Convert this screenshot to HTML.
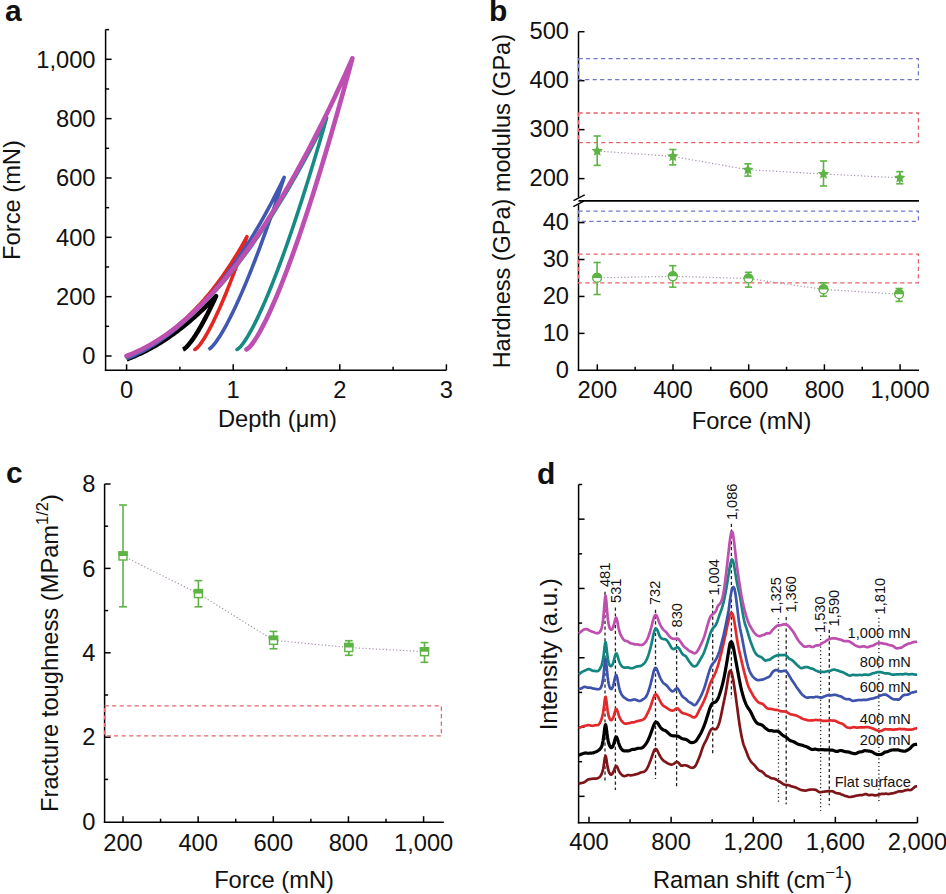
<!DOCTYPE html>
<html><head><meta charset="utf-8"><style>
html,body{margin:0;padding:0;background:#fff;}
svg{display:block;}
text{font-family:"Liberation Sans",sans-serif;fill:#111;}
</style></head><body>
<svg width="946" height="894" viewBox="0 0 946 894">
<rect width="946" height="894" fill="#fff"/>
<text x="5.00" y="21.00" font-size="30" text-anchor="start" font-weight="bold" >a</text>
<line x1="105.60" y1="29.60" x2="105.60" y2="371.05" stroke="#000" stroke-width="1.5" />
<line x1="104.85" y1="370.30" x2="446.30" y2="370.30" stroke="#000" stroke-width="1.5" />
<line x1="105.60" y1="356.00" x2="111.60" y2="356.00" stroke="#000" stroke-width="1.5" />
<text x="95.50" y="364.20" font-size="23.7" text-anchor="end" font-weight="normal" >0</text>
<line x1="105.60" y1="326.33" x2="109.10" y2="326.33" stroke="#000" stroke-width="1.5" />
<line x1="105.60" y1="296.66" x2="111.60" y2="296.66" stroke="#000" stroke-width="1.5" />
<text x="95.50" y="304.86" font-size="23.7" text-anchor="end" font-weight="normal" >200</text>
<line x1="105.60" y1="266.99" x2="109.10" y2="266.99" stroke="#000" stroke-width="1.5" />
<line x1="105.60" y1="237.32" x2="111.60" y2="237.32" stroke="#000" stroke-width="1.5" />
<text x="95.50" y="245.52" font-size="23.7" text-anchor="end" font-weight="normal" >400</text>
<line x1="105.60" y1="207.65" x2="109.10" y2="207.65" stroke="#000" stroke-width="1.5" />
<line x1="105.60" y1="177.98" x2="111.60" y2="177.98" stroke="#000" stroke-width="1.5" />
<text x="95.50" y="186.18" font-size="23.7" text-anchor="end" font-weight="normal" >600</text>
<line x1="105.60" y1="148.31" x2="109.10" y2="148.31" stroke="#000" stroke-width="1.5" />
<line x1="105.60" y1="118.64" x2="111.60" y2="118.64" stroke="#000" stroke-width="1.5" />
<text x="95.50" y="126.84" font-size="23.7" text-anchor="end" font-weight="normal" >800</text>
<line x1="105.60" y1="88.97" x2="109.10" y2="88.97" stroke="#000" stroke-width="1.5" />
<line x1="105.60" y1="59.30" x2="111.60" y2="59.30" stroke="#000" stroke-width="1.5" />
<text x="95.50" y="67.50" font-size="23.7" text-anchor="end" font-weight="normal" >1,000</text>
<line x1="105.60" y1="29.63" x2="109.10" y2="29.63" stroke="#000" stroke-width="1.5" />
<line x1="126.60" y1="370.30" x2="126.60" y2="364.30" stroke="#000" stroke-width="1.5" />
<text x="126.60" y="397.60" font-size="23.7" text-anchor="middle" font-weight="normal" >0</text>
<line x1="179.90" y1="370.30" x2="179.90" y2="366.80" stroke="#000" stroke-width="1.5" />
<line x1="233.20" y1="370.30" x2="233.20" y2="364.30" stroke="#000" stroke-width="1.5" />
<text x="233.20" y="397.60" font-size="23.7" text-anchor="middle" font-weight="normal" >1</text>
<line x1="286.50" y1="370.30" x2="286.50" y2="366.80" stroke="#000" stroke-width="1.5" />
<line x1="339.80" y1="370.30" x2="339.80" y2="364.30" stroke="#000" stroke-width="1.5" />
<text x="339.80" y="397.60" font-size="23.7" text-anchor="middle" font-weight="normal" >2</text>
<line x1="393.10" y1="370.30" x2="393.10" y2="366.80" stroke="#000" stroke-width="1.5" />
<line x1="446.40" y1="370.30" x2="446.40" y2="364.30" stroke="#000" stroke-width="1.5" />
<text x="446.40" y="397.60" font-size="23.7" text-anchor="middle" font-weight="normal" >3</text>
<text x="277.50" y="426.70" font-size="23.7" text-anchor="middle" font-weight="normal" >Depth (&#956;m)</text>
<text transform="translate(19.70,200.00) rotate(-90)" font-size="23.7" text-anchor="middle" >Force (mN)</text>
<path d="M126.60,359.40 L128.12,358.80 L129.64,358.20 L131.15,357.59 L132.67,356.96 L134.19,356.32 L135.71,355.67 L137.22,355.00 L138.74,354.32 L140.26,353.62 L141.78,352.90 L143.29,352.16 L144.81,351.41 L146.33,350.65 L147.85,349.86 L149.37,349.06 L150.88,348.24 L152.40,347.40 L153.92,346.55 L155.44,345.68 L156.95,344.79 L158.47,343.88 L159.99,342.96 L161.51,342.02 L163.02,341.06 L164.54,340.08 L166.06,339.09 L167.58,338.07 L169.10,337.04 L170.61,336.00 L172.13,334.93 L173.65,333.84 L175.17,332.74 L176.68,331.62 L178.20,330.48 L179.72,329.32 L181.24,328.15 L182.75,326.95 L184.27,325.74 L185.79,324.51 L187.31,323.27 L188.83,322.00 L190.34,320.71 L191.86,319.41 L193.38,318.09 L194.90,316.75 L196.41,315.39 L197.93,314.02 L199.45,312.62 L200.97,311.21 L202.48,309.78 L204.00,308.33 L205.52,306.86 L207.04,305.37 L208.56,303.87 L210.07,302.34 L211.59,300.80 L213.11,299.24 L214.63,297.66 L216.14,296.07 L216.14,296.07 L215.47,297.53 L214.79,298.99 L214.11,300.43 L213.44,301.87 L212.76,303.29 L212.08,304.70 L211.41,306.10 L210.73,307.49 L210.05,308.87 L209.38,310.23 L208.70,311.58 L208.02,312.92 L207.35,314.25 L206.67,315.56 L206.00,316.86 L205.32,318.15 L204.64,319.43 L203.97,320.69 L203.29,321.93 L202.61,323.17 L201.94,324.38 L201.26,325.59 L200.58,326.77 L199.91,327.94 L199.23,329.10 L198.55,330.23 L197.88,331.36 L197.20,332.46 L196.52,333.54 L195.85,334.61 L195.17,335.65 L194.49,336.68 L193.82,337.69 L193.14,338.67 L192.46,339.63 L191.79,340.57 L191.11,341.48 L190.43,342.37 L189.76,343.22 L189.08,344.05 L188.40,344.85 L187.73,345.61 L187.05,346.34 L186.37,347.02 L185.70,347.66 L185.02,348.24 L184.34,348.76 L183.67,349.19 L182.99,349.47" fill="none" stroke="#000000" stroke-width="4.5" stroke-linejoin="round" stroke-linecap="butt"/>
<path d="M126.60,356.00 L128.64,355.22 L130.68,354.41 L132.72,353.56 L134.76,352.68 L136.80,351.76 L138.84,350.81 L140.88,349.82 L142.92,348.79 L144.96,347.73 L147.00,346.64 L149.04,345.51 L151.08,344.34 L153.12,343.13 L155.16,341.89 L157.20,340.61 L159.24,339.29 L161.28,337.94 L163.32,336.54 L165.36,335.11 L167.40,333.64 L169.44,332.12 L171.48,330.57 L173.52,328.97 L175.56,327.33 L177.60,325.65 L179.64,323.93 L181.68,322.16 L183.72,320.35 L185.76,318.49 L187.80,316.58 L189.84,314.63 L191.88,312.63 L193.92,310.58 L195.96,308.48 L197.99,306.33 L200.03,304.13 L202.07,301.88 L204.11,299.57 L206.15,297.21 L208.19,294.80 L210.23,292.32 L212.27,289.79 L214.31,287.20 L216.35,284.55 L218.39,281.84 L220.43,279.07 L222.47,276.23 L224.51,273.33 L226.55,270.36 L228.59,267.32 L230.63,264.22 L232.67,261.04 L234.71,257.80 L236.75,254.48 L238.79,251.08 L240.83,247.61 L242.87,244.06 L244.91,240.43 L246.95,236.73 L246.95,236.73 L245.89,239.82 L244.82,242.89 L243.76,245.94 L242.70,248.97 L241.63,251.97 L240.57,254.95 L239.50,257.91 L238.44,260.84 L237.38,263.75 L236.31,266.63 L235.25,269.48 L234.19,272.31 L233.12,275.11 L232.06,277.89 L230.99,280.63 L229.93,283.35 L228.87,286.04 L227.80,288.70 L226.74,291.34 L225.67,293.94 L224.61,296.51 L223.55,299.04 L222.48,301.55 L221.42,304.02 L220.36,306.46 L219.29,308.86 L218.23,311.22 L217.16,313.55 L216.10,315.84 L215.04,318.09 L213.97,320.30 L212.91,322.47 L211.85,324.59 L210.78,326.67 L209.72,328.69 L208.65,330.67 L207.59,332.60 L206.53,334.47 L205.46,336.28 L204.40,338.03 L203.33,339.71 L202.27,341.32 L201.21,342.85 L200.14,344.30 L199.08,345.64 L198.02,346.88 L196.95,347.97 L195.89,348.88 L194.82,349.47" fill="none" stroke="#e52521" stroke-width="3.6" stroke-linejoin="round" stroke-linecap="round"/>
<path d="M126.60,358.70 L129.27,357.61 L131.94,356.47 L134.61,355.26 L137.28,353.99 L139.95,352.67 L142.62,351.28 L145.29,349.83 L147.96,348.32 L150.63,346.76 L153.30,345.13 L155.97,343.44 L158.65,341.69 L161.32,339.87 L163.99,338.00 L166.66,336.06 L169.33,334.05 L172.00,331.99 L174.67,329.86 L177.34,327.66 L180.01,325.40 L182.68,323.07 L185.35,320.68 L188.02,318.22 L190.69,315.69 L193.36,313.10 L196.03,310.43 L198.70,307.69 L201.37,304.88 L204.04,302.00 L206.71,299.05 L209.38,296.02 L212.05,292.92 L214.72,289.74 L217.39,286.48 L220.06,283.15 L222.74,279.74 L225.41,276.25 L228.08,272.67 L230.75,269.02 L233.42,265.28 L236.09,261.45 L238.76,257.54 L241.43,253.54 L244.10,249.46 L246.77,245.34 L249.44,241.13 L252.11,236.83 L254.78,232.44 L257.45,227.95 L260.12,223.36 L262.79,218.67 L265.46,213.88 L268.13,208.98 L270.80,203.99 L273.47,198.89 L276.14,193.68 L278.81,188.36 L281.48,182.93 L284.15,177.39 L284.15,177.39 L282.61,182.11 L281.07,186.80 L279.52,191.46 L277.98,196.08 L276.43,200.66 L274.89,205.21 L273.34,209.72 L271.80,214.19 L270.25,218.63 L268.71,223.02 L267.16,227.38 L265.62,231.70 L264.07,235.97 L262.53,240.21 L260.99,244.40 L259.44,248.55 L257.90,252.66 L256.35,256.72 L254.81,260.74 L253.26,264.71 L251.72,268.63 L250.17,272.50 L248.63,276.33 L247.08,280.10 L245.54,283.82 L243.99,287.48 L242.45,291.09 L240.91,294.65 L239.36,298.14 L237.82,301.58 L236.27,304.95 L234.73,308.25 L233.18,311.49 L231.64,314.66 L230.09,317.76 L228.55,320.78 L227.00,323.72 L225.46,326.57 L223.91,329.34 L222.37,332.01 L220.83,334.57 L219.28,337.03 L217.74,339.37 L216.19,341.57 L214.65,343.63 L213.10,345.51 L211.56,347.18 L210.01,348.57 L208.47,349.47" fill="none" stroke="#4058b2" stroke-width="3.6" stroke-linejoin="round" stroke-linecap="butt"/>
<path d="M126.60,356.80 L129.99,355.47 L133.38,354.04 L136.77,352.52 L140.17,350.90 L143.56,349.19 L146.95,347.39 L150.34,345.49 L153.73,343.50 L157.12,341.42 L160.51,339.24 L163.90,336.97 L167.30,334.60 L170.69,332.14 L174.08,329.58 L177.47,326.93 L180.86,324.19 L184.25,321.35 L187.64,318.42 L191.04,315.40 L194.43,312.28 L197.82,309.06 L201.21,305.76 L204.60,302.36 L207.99,298.86 L211.38,295.27 L214.77,291.59 L218.17,287.81 L221.56,283.94 L224.95,279.97 L228.34,275.91 L231.73,271.76 L235.12,267.51 L238.51,263.17 L241.91,258.74 L245.30,254.21 L248.69,249.58 L252.08,244.87 L255.47,240.06 L258.86,235.18 L262.25,230.20 L265.64,225.13 L269.04,219.96 L272.43,214.70 L275.82,209.35 L279.21,203.90 L282.60,198.35 L285.99,192.72 L289.38,186.99 L292.77,181.16 L296.17,175.25 L299.56,169.23 L302.95,163.13 L306.34,156.93 L309.73,150.63 L313.12,144.24 L316.51,137.76 L319.91,131.18 L323.30,124.51 L326.69,117.75 L326.69,117.75 L324.86,124.11 L323.03,130.43 L321.20,136.69 L319.37,142.92 L317.54,149.09 L315.71,155.21 L313.88,161.29 L312.05,167.31 L310.22,173.28 L308.39,179.20 L306.56,185.07 L304.73,190.88 L302.90,196.64 L301.07,202.34 L299.24,207.99 L297.41,213.58 L295.58,219.11 L293.76,224.58 L291.93,229.99 L290.10,235.33 L288.27,240.61 L286.44,245.83 L284.61,250.98 L282.78,256.06 L280.95,261.07 L279.12,266.00 L277.29,270.86 L275.46,275.65 L273.63,280.35 L271.80,284.98 L269.97,289.52 L268.14,293.97 L266.31,298.33 L264.48,302.60 L262.65,306.77 L260.82,310.83 L258.99,314.79 L257.16,318.63 L255.33,322.36 L253.50,325.95 L251.67,329.41 L249.84,332.72 L248.02,335.87 L246.19,338.84 L244.36,341.60 L242.53,344.14 L240.70,346.39 L238.87,348.26 L237.04,349.47" fill="none" stroke="#168a83" stroke-width="3.6" stroke-linejoin="round" stroke-linecap="round"/>
<path d="M126.60,356.00 L130.43,354.51 L134.25,352.90 L138.08,351.17 L141.91,349.31 L145.73,347.33 L149.56,345.23 L153.39,343.01 L157.21,340.66 L161.04,338.19 L164.87,335.60 L168.69,332.88 L172.52,330.05 L176.35,327.09 L180.17,324.00 L184.00,320.80 L187.83,317.47 L191.65,314.02 L195.48,310.45 L199.31,306.75 L203.14,302.94 L206.96,298.99 L210.79,294.93 L214.62,290.75 L218.44,286.44 L222.27,282.01 L226.10,277.45 L229.92,272.78 L233.75,267.98 L237.58,263.06 L241.40,258.01 L245.23,252.85 L249.06,247.56 L252.88,242.15 L256.71,236.61 L260.54,230.95 L264.36,225.18 L268.19,219.27 L272.02,213.25 L275.84,207.10 L279.67,200.83 L283.50,194.44 L287.32,187.92 L291.15,181.29 L294.98,174.53 L298.80,167.64 L302.63,160.64 L306.46,153.51 L310.28,146.26 L314.11,138.89 L317.94,131.39 L321.76,123.77 L325.59,116.03 L329.42,108.17 L333.25,100.18 L337.07,92.07 L340.90,83.84 L344.73,75.49 L348.55,67.01 L352.38,58.41 L352.38,58.41 L350.22,66.40 L348.06,74.33 L345.90,82.21 L343.74,90.02 L341.58,97.77 L339.42,105.46 L337.26,113.09 L335.10,120.66 L332.94,128.16 L330.78,135.60 L328.62,142.97 L326.46,150.27 L324.30,157.50 L322.13,164.67 L319.97,171.76 L317.81,178.78 L315.65,185.73 L313.49,192.60 L311.33,199.39 L309.17,206.10 L307.01,212.74 L304.85,219.29 L302.69,225.75 L300.53,232.13 L298.37,238.43 L296.21,244.63 L294.05,250.73 L291.89,256.74 L289.73,262.65 L287.57,268.46 L285.41,274.16 L283.25,279.76 L281.09,285.24 L278.93,290.60 L276.77,295.83 L274.61,300.94 L272.45,305.91 L270.29,310.74 L268.13,315.41 L265.97,319.93 L263.81,324.27 L261.65,328.43 L259.49,332.38 L257.33,336.11 L255.17,339.59 L253.01,342.77 L250.85,345.59 L248.69,347.95 L246.52,349.47" fill="none" stroke="#bd4fb3" stroke-width="4.6" stroke-linejoin="round" stroke-linecap="round"/>
<text x="489.00" y="21.00" font-size="30" text-anchor="start" font-weight="bold" >b</text>
<line x1="578.50" y1="31.70" x2="578.50" y2="197.20" stroke="#000" stroke-width="1.5" />
<line x1="578.50" y1="204.20" x2="578.50" y2="371.05" stroke="#000" stroke-width="1.5" />
<line x1="577.75" y1="370.30" x2="919.00" y2="370.30" stroke="#000" stroke-width="1.5" />
<polygon points="573.5,201.5 584.5,195.8 584.5,201.3 573.5,207" fill="#fff"/>
<line x1="573.50" y1="200.60" x2="584.70" y2="194.90" stroke="#000" stroke-width="1.4" />
<line x1="573.30" y1="206.60" x2="583.80" y2="201.20" stroke="#000" stroke-width="1.4" />
<line x1="578.50" y1="200.90" x2="919.00" y2="200.90" stroke="#000" stroke-width="1.6" />
<line x1="578.50" y1="31.70" x2="584.50" y2="31.70" stroke="#000" stroke-width="1.5" />
<text x="569.00" y="39.30" font-size="23.7" text-anchor="end" font-weight="normal" >500</text>
<line x1="578.50" y1="80.67" x2="584.50" y2="80.67" stroke="#000" stroke-width="1.5" />
<text x="569.00" y="88.27" font-size="23.7" text-anchor="end" font-weight="normal" >400</text>
<line x1="578.50" y1="129.64" x2="584.50" y2="129.64" stroke="#000" stroke-width="1.5" />
<text x="569.00" y="137.24" font-size="23.7" text-anchor="end" font-weight="normal" >300</text>
<line x1="578.50" y1="178.61" x2="584.50" y2="178.61" stroke="#000" stroke-width="1.5" />
<text x="569.00" y="186.21" font-size="23.7" text-anchor="end" font-weight="normal" >200</text>
<line x1="578.50" y1="222.58" x2="584.50" y2="222.58" stroke="#000" stroke-width="1.5" />
<text x="569.00" y="230.18" font-size="23.7" text-anchor="end" font-weight="normal" >40</text>
<line x1="578.50" y1="259.51" x2="584.50" y2="259.51" stroke="#000" stroke-width="1.5" />
<text x="569.00" y="267.11" font-size="23.7" text-anchor="end" font-weight="normal" >30</text>
<line x1="578.50" y1="296.44" x2="584.50" y2="296.44" stroke="#000" stroke-width="1.5" />
<text x="569.00" y="304.04" font-size="23.7" text-anchor="end" font-weight="normal" >20</text>
<line x1="578.50" y1="333.37" x2="584.50" y2="333.37" stroke="#000" stroke-width="1.5" />
<text x="569.00" y="340.97" font-size="23.7" text-anchor="end" font-weight="normal" >10</text>
<text x="569.00" y="377.90" font-size="23.7" text-anchor="end" font-weight="normal" >0</text>
<line x1="597.30" y1="370.30" x2="597.30" y2="364.30" stroke="#000" stroke-width="1.5" />
<text x="597.30" y="397.80" font-size="23.7" text-anchor="middle" font-weight="normal" >200</text>
<line x1="635.15" y1="370.30" x2="635.15" y2="366.80" stroke="#000" stroke-width="1.5" />
<line x1="673.00" y1="370.30" x2="673.00" y2="364.30" stroke="#000" stroke-width="1.5" />
<text x="673.00" y="397.80" font-size="23.7" text-anchor="middle" font-weight="normal" >400</text>
<line x1="710.85" y1="370.30" x2="710.85" y2="366.80" stroke="#000" stroke-width="1.5" />
<line x1="748.70" y1="370.30" x2="748.70" y2="364.30" stroke="#000" stroke-width="1.5" />
<text x="748.70" y="397.80" font-size="23.7" text-anchor="middle" font-weight="normal" >600</text>
<line x1="786.55" y1="370.30" x2="786.55" y2="366.80" stroke="#000" stroke-width="1.5" />
<line x1="824.40" y1="370.30" x2="824.40" y2="364.30" stroke="#000" stroke-width="1.5" />
<text x="824.40" y="397.80" font-size="23.7" text-anchor="middle" font-weight="normal" >800</text>
<line x1="862.25" y1="370.30" x2="862.25" y2="366.80" stroke="#000" stroke-width="1.5" />
<line x1="900.10" y1="370.30" x2="900.10" y2="364.30" stroke="#000" stroke-width="1.5" />
<text x="900.10" y="397.80" font-size="23.7" text-anchor="middle" font-weight="normal" >1,000</text>
<text x="751.60" y="428.50" font-size="23.7" text-anchor="middle" font-weight="normal" >Force (mN)</text>
<text transform="translate(510.00,201.20) rotate(-90)" font-size="23.5" text-anchor="middle" >Hardness (GPa) modulus (GPa)</text>
<rect x="578.5" y="58.6" width="339.9" height="20.999999999999993" fill="none" stroke="#7479c4" stroke-width="1.3" stroke-dasharray="4.2,3.3"/>
<rect x="578.5" y="113.0" width="339.9" height="29.599999999999994" fill="none" stroke="#e5646a" stroke-width="1.3" stroke-dasharray="4.2,3.3"/>
<rect x="578.5" y="211.1" width="339.9" height="10.200000000000017" fill="none" stroke="#7479c4" stroke-width="1.3" stroke-dasharray="4.2,3.3"/>
<rect x="578.5" y="254.2" width="339.9" height="28.600000000000023" fill="none" stroke="#e5646a" stroke-width="1.3" stroke-dasharray="4.2,3.3"/>
<path d="M597.20,151.00 L672.80,156.40 L747.90,169.70 L823.50,174.00 L899.80,177.80" fill="none" stroke="#a890b0" stroke-width="1.2" stroke-dasharray="1.2,2.2"/>
<path d="M597.10,277.90 L672.80,276.30 L748.50,278.50 L823.50,289.40 L899.10,294.20" fill="none" stroke="#a890b0" stroke-width="1.2" stroke-dasharray="1.2,2.2"/>
<line x1="597.20" y1="136.00" x2="597.20" y2="165.40" stroke="#5db343" stroke-width="1.6" />
<line x1="593.60" y1="136.00" x2="600.80" y2="136.00" stroke="#5db343" stroke-width="1.6" />
<line x1="593.60" y1="165.40" x2="600.80" y2="165.40" stroke="#5db343" stroke-width="1.6" />
<polygon points="597.20,145.10 598.86,148.71 602.81,149.18 599.89,151.88 600.67,155.77 597.20,153.83 593.73,155.77 594.51,151.88 591.59,149.18 595.54,148.71" fill="#5db343"/>
<line x1="672.80" y1="149.50" x2="672.80" y2="164.90" stroke="#5db343" stroke-width="1.6" />
<line x1="669.20" y1="149.50" x2="676.40" y2="149.50" stroke="#5db343" stroke-width="1.6" />
<line x1="669.20" y1="164.90" x2="676.40" y2="164.90" stroke="#5db343" stroke-width="1.6" />
<polygon points="672.80,150.50 674.46,154.11 678.41,154.58 675.49,157.28 676.27,161.17 672.80,159.23 669.33,161.17 670.11,157.28 667.19,154.58 671.14,154.11" fill="#5db343"/>
<line x1="747.90" y1="163.80" x2="747.90" y2="176.10" stroke="#5db343" stroke-width="1.6" />
<line x1="744.30" y1="163.80" x2="751.50" y2="163.80" stroke="#5db343" stroke-width="1.6" />
<line x1="744.30" y1="176.10" x2="751.50" y2="176.10" stroke="#5db343" stroke-width="1.6" />
<polygon points="747.90,163.80 749.56,167.41 753.51,167.88 750.59,170.58 751.37,174.47 747.90,172.53 744.43,174.47 745.21,170.58 742.29,167.88 746.24,167.41" fill="#5db343"/>
<line x1="823.50" y1="161.00" x2="823.50" y2="186.00" stroke="#5db343" stroke-width="1.6" />
<line x1="819.90" y1="161.00" x2="827.10" y2="161.00" stroke="#5db343" stroke-width="1.6" />
<line x1="819.90" y1="186.00" x2="827.10" y2="186.00" stroke="#5db343" stroke-width="1.6" />
<polygon points="823.50,168.10 825.16,171.71 829.11,172.18 826.19,174.88 826.97,178.77 823.50,176.83 820.03,178.77 820.81,174.88 817.89,172.18 821.84,171.71" fill="#5db343"/>
<line x1="899.80" y1="171.70" x2="899.80" y2="183.80" stroke="#5db343" stroke-width="1.6" />
<line x1="896.20" y1="171.70" x2="903.40" y2="171.70" stroke="#5db343" stroke-width="1.6" />
<line x1="896.20" y1="183.80" x2="903.40" y2="183.80" stroke="#5db343" stroke-width="1.6" />
<polygon points="899.80,171.90 901.46,175.51 905.41,175.98 902.49,178.68 903.27,182.57 899.80,180.63 896.33,182.57 897.11,178.68 894.19,175.98 898.14,175.51" fill="#5db343"/>
<line x1="597.10" y1="262.50" x2="597.10" y2="294.50" stroke="#5db343" stroke-width="1.6" />
<line x1="593.50" y1="262.50" x2="600.70" y2="262.50" stroke="#5db343" stroke-width="1.6" />
<line x1="593.50" y1="294.50" x2="600.70" y2="294.50" stroke="#5db343" stroke-width="1.6" />
<circle cx="597.1" cy="277.9" r="4.4" fill="#fff" stroke="#5db343" stroke-width="1.4"/>
<path d="M592.0,277.9 A5.1000000000000005,5.1000000000000005 0 0 1 602.2,277.9 Z" fill="#5db343"/>
<line x1="672.80" y1="265.70" x2="672.80" y2="287.10" stroke="#5db343" stroke-width="1.6" />
<line x1="669.20" y1="265.70" x2="676.40" y2="265.70" stroke="#5db343" stroke-width="1.6" />
<line x1="669.20" y1="287.10" x2="676.40" y2="287.10" stroke="#5db343" stroke-width="1.6" />
<circle cx="672.8" cy="276.3" r="4.4" fill="#fff" stroke="#5db343" stroke-width="1.4"/>
<path d="M667.6999999999999,276.3 A5.1000000000000005,5.1000000000000005 0 0 1 677.9,276.3 Z" fill="#5db343"/>
<line x1="748.50" y1="272.30" x2="748.50" y2="287.10" stroke="#5db343" stroke-width="1.6" />
<line x1="744.90" y1="272.30" x2="752.10" y2="272.30" stroke="#5db343" stroke-width="1.6" />
<line x1="744.90" y1="287.10" x2="752.10" y2="287.10" stroke="#5db343" stroke-width="1.6" />
<circle cx="748.5" cy="278.5" r="4.4" fill="#fff" stroke="#5db343" stroke-width="1.4"/>
<path d="M743.4,278.5 A5.1000000000000005,5.1000000000000005 0 0 1 753.6,278.5 Z" fill="#5db343"/>
<line x1="823.50" y1="282.80" x2="823.50" y2="296.20" stroke="#5db343" stroke-width="1.6" />
<line x1="819.90" y1="282.80" x2="827.10" y2="282.80" stroke="#5db343" stroke-width="1.6" />
<line x1="819.90" y1="296.20" x2="827.10" y2="296.20" stroke="#5db343" stroke-width="1.6" />
<circle cx="823.5" cy="289.4" r="4.4" fill="#fff" stroke="#5db343" stroke-width="1.4"/>
<path d="M818.4,289.4 A5.1000000000000005,5.1000000000000005 0 0 1 828.6,289.4 Z" fill="#5db343"/>
<line x1="899.10" y1="288.50" x2="899.10" y2="301.40" stroke="#5db343" stroke-width="1.6" />
<line x1="895.50" y1="288.50" x2="902.70" y2="288.50" stroke="#5db343" stroke-width="1.6" />
<line x1="895.50" y1="301.40" x2="902.70" y2="301.40" stroke="#5db343" stroke-width="1.6" />
<circle cx="899.1" cy="294.2" r="4.4" fill="#fff" stroke="#5db343" stroke-width="1.4"/>
<path d="M894.0,294.2 A5.1000000000000005,5.1000000000000005 0 0 1 904.2,294.2 Z" fill="#5db343"/>
<text x="6.00" y="482.70" font-size="30" text-anchor="start" font-weight="bold" >c</text>
<line x1="104.60" y1="484.00" x2="104.60" y2="822.95" stroke="#000" stroke-width="1.5" />
<line x1="103.85" y1="822.20" x2="443.80" y2="822.20" stroke="#000" stroke-width="1.5" />
<text x="95.50" y="829.80" font-size="23.7" text-anchor="end" font-weight="normal" >0</text>
<line x1="104.60" y1="779.40" x2="108.10" y2="779.40" stroke="#000" stroke-width="1.5" />
<line x1="104.60" y1="737.20" x2="110.60" y2="737.20" stroke="#000" stroke-width="1.5" />
<text x="95.50" y="745.40" font-size="23.7" text-anchor="end" font-weight="normal" >2</text>
<line x1="104.60" y1="695.00" x2="108.10" y2="695.00" stroke="#000" stroke-width="1.5" />
<line x1="104.60" y1="652.80" x2="110.60" y2="652.80" stroke="#000" stroke-width="1.5" />
<text x="95.50" y="661.00" font-size="23.7" text-anchor="end" font-weight="normal" >4</text>
<line x1="104.60" y1="610.60" x2="108.10" y2="610.60" stroke="#000" stroke-width="1.5" />
<line x1="104.60" y1="568.40" x2="110.60" y2="568.40" stroke="#000" stroke-width="1.5" />
<text x="95.50" y="576.60" font-size="23.7" text-anchor="end" font-weight="normal" >6</text>
<line x1="104.60" y1="526.20" x2="108.10" y2="526.20" stroke="#000" stroke-width="1.5" />
<line x1="104.60" y1="484.00" x2="110.60" y2="484.00" stroke="#000" stroke-width="1.5" />
<text x="95.50" y="492.20" font-size="23.7" text-anchor="end" font-weight="normal" >8</text>
<line x1="123.00" y1="822.20" x2="123.00" y2="816.20" stroke="#000" stroke-width="1.5" />
<text x="123.00" y="850.50" font-size="23.7" text-anchor="middle" font-weight="normal" >200</text>
<line x1="160.57" y1="822.20" x2="160.57" y2="818.70" stroke="#000" stroke-width="1.5" />
<line x1="198.15" y1="822.20" x2="198.15" y2="816.20" stroke="#000" stroke-width="1.5" />
<text x="198.15" y="850.50" font-size="23.7" text-anchor="middle" font-weight="normal" >400</text>
<line x1="235.72" y1="822.20" x2="235.72" y2="818.70" stroke="#000" stroke-width="1.5" />
<line x1="273.30" y1="822.20" x2="273.30" y2="816.20" stroke="#000" stroke-width="1.5" />
<text x="273.30" y="850.50" font-size="23.7" text-anchor="middle" font-weight="normal" >600</text>
<line x1="310.88" y1="822.20" x2="310.88" y2="818.70" stroke="#000" stroke-width="1.5" />
<line x1="348.45" y1="822.20" x2="348.45" y2="816.20" stroke="#000" stroke-width="1.5" />
<text x="348.45" y="850.50" font-size="23.7" text-anchor="middle" font-weight="normal" >800</text>
<line x1="386.03" y1="822.20" x2="386.03" y2="818.70" stroke="#000" stroke-width="1.5" />
<line x1="423.60" y1="822.20" x2="423.60" y2="816.20" stroke="#000" stroke-width="1.5" />
<text x="423.60" y="850.50" font-size="23.7" text-anchor="middle" font-weight="normal" >1,000</text>
<text x="274.00" y="888.30" font-size="23.7" text-anchor="middle" font-weight="normal" >Force (mN)</text>
<text transform="translate(57.50,653.00) rotate(-90)" font-size="23.7" text-anchor="middle" >Fracture toughness (MPam<tspan dy="-10" font-size="16.5">1/2</tspan><tspan dy="10">)</tspan></text>
<rect x="104.6" y="705.8" width="336.79999999999995" height="30.100000000000023" fill="none" stroke="#e5646a" stroke-width="1.3" stroke-dasharray="4.2,3.3"/>
<path d="M123.00,556.00 L198.40,593.60 L273.50,640.30 L348.80,647.50 L424.50,651.70" fill="none" stroke="#a890b0" stroke-width="1.2" stroke-dasharray="1.2,2.2"/>
<line x1="123.00" y1="505.00" x2="123.00" y2="606.80" stroke="#5db343" stroke-width="1.6" />
<line x1="119.10" y1="505.00" x2="126.90" y2="505.00" stroke="#5db343" stroke-width="1.6" />
<line x1="119.10" y1="606.80" x2="126.90" y2="606.80" stroke="#5db343" stroke-width="1.6" />
<rect x="119.0" y="552.0" width="8.0" height="8.0" fill="#fff" stroke="#5db343" stroke-width="1.4"/>
<rect x="118.3" y="551.3" width="9.4" height="4.7" fill="#5db343"/>
<line x1="198.40" y1="580.60" x2="198.40" y2="606.80" stroke="#5db343" stroke-width="1.6" />
<line x1="194.50" y1="580.60" x2="202.30" y2="580.60" stroke="#5db343" stroke-width="1.6" />
<line x1="194.50" y1="606.80" x2="202.30" y2="606.80" stroke="#5db343" stroke-width="1.6" />
<rect x="194.4" y="589.6" width="8.0" height="8.0" fill="#fff" stroke="#5db343" stroke-width="1.4"/>
<rect x="193.70000000000002" y="588.9" width="9.4" height="4.7" fill="#5db343"/>
<line x1="273.50" y1="631.40" x2="273.50" y2="648.80" stroke="#5db343" stroke-width="1.6" />
<line x1="269.60" y1="631.40" x2="277.40" y2="631.40" stroke="#5db343" stroke-width="1.6" />
<line x1="269.60" y1="648.80" x2="277.40" y2="648.80" stroke="#5db343" stroke-width="1.6" />
<rect x="269.5" y="636.3" width="8.0" height="8.0" fill="#fff" stroke="#5db343" stroke-width="1.4"/>
<rect x="268.8" y="635.5999999999999" width="9.4" height="4.7" fill="#5db343"/>
<line x1="348.80" y1="640.70" x2="348.80" y2="655.30" stroke="#5db343" stroke-width="1.6" />
<line x1="344.90" y1="640.70" x2="352.70" y2="640.70" stroke="#5db343" stroke-width="1.6" />
<line x1="344.90" y1="655.30" x2="352.70" y2="655.30" stroke="#5db343" stroke-width="1.6" />
<rect x="344.8" y="643.5" width="8.0" height="8.0" fill="#fff" stroke="#5db343" stroke-width="1.4"/>
<rect x="344.1" y="642.8" width="9.4" height="4.7" fill="#5db343"/>
<line x1="424.50" y1="642.60" x2="424.50" y2="662.30" stroke="#5db343" stroke-width="1.6" />
<line x1="420.60" y1="642.60" x2="428.40" y2="642.60" stroke="#5db343" stroke-width="1.6" />
<line x1="420.60" y1="662.30" x2="428.40" y2="662.30" stroke="#5db343" stroke-width="1.6" />
<rect x="420.5" y="647.7" width="8.0" height="8.0" fill="#fff" stroke="#5db343" stroke-width="1.4"/>
<rect x="419.8" y="647.0" width="9.4" height="4.7" fill="#5db343"/>
<text x="537.00" y="484.00" font-size="30" text-anchor="start" font-weight="bold" >d</text>
<line x1="578.60" y1="484.50" x2="578.60" y2="823.55" stroke="#000" stroke-width="1.5" />
<line x1="577.85" y1="822.80" x2="917.50" y2="822.80" stroke="#000" stroke-width="1.5" />
<line x1="578.60" y1="484.50" x2="582.10" y2="484.50" stroke="#000" stroke-width="1.5" />
<line x1="578.60" y1="519.15" x2="584.60" y2="519.15" stroke="#000" stroke-width="1.5" />
<line x1="578.60" y1="553.80" x2="582.10" y2="553.80" stroke="#000" stroke-width="1.5" />
<line x1="578.60" y1="588.45" x2="584.60" y2="588.45" stroke="#000" stroke-width="1.5" />
<line x1="578.60" y1="623.10" x2="582.10" y2="623.10" stroke="#000" stroke-width="1.5" />
<line x1="578.60" y1="657.75" x2="584.60" y2="657.75" stroke="#000" stroke-width="1.5" />
<line x1="578.60" y1="692.40" x2="582.10" y2="692.40" stroke="#000" stroke-width="1.5" />
<line x1="578.60" y1="727.05" x2="584.60" y2="727.05" stroke="#000" stroke-width="1.5" />
<line x1="578.60" y1="761.70" x2="582.10" y2="761.70" stroke="#000" stroke-width="1.5" />
<line x1="578.60" y1="796.35" x2="584.60" y2="796.35" stroke="#000" stroke-width="1.5" />
<line x1="589.00" y1="822.80" x2="589.00" y2="816.80" stroke="#000" stroke-width="1.5" />
<text x="589.00" y="850.30" font-size="23.7" text-anchor="middle" font-weight="normal" >400</text>
<line x1="630.06" y1="822.80" x2="630.06" y2="819.30" stroke="#000" stroke-width="1.5" />
<line x1="671.12" y1="822.80" x2="671.12" y2="816.80" stroke="#000" stroke-width="1.5" />
<text x="671.12" y="850.30" font-size="23.7" text-anchor="middle" font-weight="normal" >800</text>
<line x1="712.18" y1="822.80" x2="712.18" y2="819.30" stroke="#000" stroke-width="1.5" />
<line x1="753.24" y1="822.80" x2="753.24" y2="816.80" stroke="#000" stroke-width="1.5" />
<text x="753.24" y="850.30" font-size="23.7" text-anchor="middle" font-weight="normal" >1,200</text>
<line x1="794.30" y1="822.80" x2="794.30" y2="819.30" stroke="#000" stroke-width="1.5" />
<line x1="835.36" y1="822.80" x2="835.36" y2="816.80" stroke="#000" stroke-width="1.5" />
<text x="835.36" y="850.30" font-size="23.7" text-anchor="middle" font-weight="normal" >1,600</text>
<line x1="876.42" y1="822.80" x2="876.42" y2="819.30" stroke="#000" stroke-width="1.5" />
<line x1="917.48" y1="822.80" x2="917.48" y2="816.80" stroke="#000" stroke-width="1.5" />
<text x="917.48" y="850.30" font-size="23.7" text-anchor="middle" font-weight="normal" >2,000</text>
<text x="752.50" y="888.00" font-size="23.7" text-anchor="middle" font-weight="normal" >Raman shift (cm<tspan dy="-10" font-size="16.5">&#8722;1</tspan><tspan dy="10">)</tspan></text>
<text transform="translate(557.00,654.30) rotate(-90)" font-size="24" text-anchor="middle" >Intensity (a.u.)</text>
<line x1="605.0" y1="591.8" x2="605.0" y2="783.3" stroke="#222" stroke-width="1.3" stroke-dasharray="3.2,2.6"/>
<line x1="615.4" y1="607.6" x2="615.4" y2="790.1" stroke="#222" stroke-width="1.3" stroke-dasharray="3.2,2.6"/>
<line x1="655.5" y1="609.7" x2="655.5" y2="779.0" stroke="#222" stroke-width="1.3" stroke-dasharray="3.2,2.6"/>
<line x1="676.6" y1="632.3" x2="676.6" y2="786.4" stroke="#222" stroke-width="1.3" stroke-dasharray="3.2,2.6"/>
<line x1="712.7" y1="599.2" x2="712.7" y2="754.0" stroke="#222" stroke-width="1.3" stroke-dasharray="3.2,2.6"/>
<line x1="731.4" y1="523.8" x2="731.4" y2="698.3" stroke="#222" stroke-width="1.3" stroke-dasharray="3.2,2.6"/>
<line x1="778.5" y1="618.2" x2="778.5" y2="803.0" stroke="#222" stroke-width="1.3" stroke-dasharray="1.2,2.6"/>
<line x1="786.2" y1="617.0" x2="786.2" y2="804.2" stroke="#222" stroke-width="1.3" stroke-dasharray="3.2,2.6"/>
<line x1="820.6" y1="635.1" x2="820.6" y2="810.8" stroke="#222" stroke-width="1.3" stroke-dasharray="1.2,2.6"/>
<line x1="829.3" y1="629.7" x2="829.3" y2="805.3" stroke="#222" stroke-width="1.3" stroke-dasharray="3.2,2.6"/>
<line x1="878.9" y1="617.7" x2="878.9" y2="801.0" stroke="#222" stroke-width="1.3" stroke-dasharray="1.2,2.6"/>
<path d="M578.6,783.85 L579.1,783.65 L579.6,783.45 L580.1,783.28 L580.6,783.15 L581.1,783.05 L581.6,782.97 L582.1,782.89 L582.6,782.79 L583.1,782.66 L583.6,782.48 L584.1,782.26 L584.6,781.99 L585.1,781.68 L585.6,781.33 L586.1,780.94 L586.6,780.54 L587.1,780.15 L587.6,779.82 L588.1,779.56 L588.6,779.37 L589.1,779.25 L589.6,779.22 L590.1,779.19 L590.6,779.12 L591.1,779.03 L591.6,778.92 L592.1,778.81 L592.6,778.72 L593.1,778.64 L593.6,778.59 L594.1,778.57 L594.6,778.56 L595.1,778.57 L595.6,778.58 L596.1,778.56 L596.6,778.50 L597.1,778.38 L597.6,778.20 L598.1,777.97 L598.6,777.68 L599.1,777.34 L599.6,776.93 L600.1,776.44 L600.6,775.84 L601.1,775.09 L601.6,774.12 L602.1,772.85 L602.6,771.19 L603.1,769.01 L603.6,766.22 L604.1,762.87 L604.6,759.36 L605.1,756.63 L605.6,755.88 L606.1,757.46 L606.6,760.53 L607.1,763.90 L607.6,766.86 L608.1,769.19 L608.6,770.96 L609.1,772.28 L609.6,773.28 L610.1,774.01 L610.6,774.50 L611.1,774.68 L611.6,774.52 L612.1,774.08 L612.6,773.37 L613.1,772.41 L613.6,771.25 L614.1,769.95 L614.6,768.64 L615.1,767.45 L615.6,766.56 L616.1,766.12 L616.6,766.20 L617.1,766.89 L617.6,767.94 L618.1,769.13 L618.6,770.27 L619.1,771.30 L619.6,772.18 L620.1,772.92 L620.6,773.56 L621.1,774.13 L621.6,774.66 L622.1,775.12 L622.6,775.52 L623.1,775.82 L623.6,776.02 L624.1,776.12 L624.6,776.12 L625.1,776.04 L625.6,775.89 L626.1,775.69 L626.6,775.45 L627.1,775.21 L627.6,775.05 L628.1,774.98 L628.6,775.01 L629.1,775.09 L629.6,775.20 L630.1,775.28 L630.6,775.32 L631.1,775.31 L631.6,775.27 L632.1,775.21 L632.6,775.13 L633.1,775.04 L633.6,774.93 L634.1,774.80 L634.6,774.64 L635.1,774.47 L635.6,774.32 L636.1,774.19 L636.6,774.09 L637.1,773.98 L637.6,773.86 L638.1,773.69 L638.6,773.48 L639.1,773.23 L639.6,772.98 L640.1,772.74 L640.6,772.54 L641.1,772.40 L641.6,772.29 L642.1,772.21 L642.6,772.12 L643.1,772.02 L643.6,771.87 L644.1,771.67 L644.6,771.40 L645.1,771.03 L645.6,770.54 L646.1,769.94 L646.6,769.21 L647.1,768.37 L647.6,767.43 L648.1,766.40 L648.6,765.29 L649.1,764.11 L649.6,762.86 L650.1,761.57 L650.6,760.23 L651.1,758.86 L651.6,757.45 L652.1,756.00 L652.6,754.53 L653.1,753.10 L653.6,751.76 L654.1,750.61 L654.6,749.73 L655.1,749.16 L655.6,748.95 L656.1,749.10 L656.6,749.57 L657.1,750.30 L657.6,751.21 L658.1,752.24 L658.6,753.29 L659.1,754.32 L659.6,755.28 L660.1,756.17 L660.6,757.00 L661.1,757.77 L661.6,758.48 L662.1,759.15 L662.6,759.74 L663.1,760.25 L663.6,760.69 L664.1,761.05 L664.6,761.37 L665.1,761.68 L665.6,761.99 L666.1,762.31 L666.6,762.63 L667.1,762.94 L667.6,763.22 L668.1,763.47 L668.6,763.70 L669.1,763.92 L669.6,764.13 L670.1,764.31 L670.6,764.47 L671.1,764.57 L671.6,764.58 L672.1,764.51 L672.6,764.36 L673.1,764.13 L673.6,763.86 L674.1,763.54 L674.6,763.19 L675.1,762.82 L675.6,762.46 L676.1,762.20 L676.6,762.08 L677.1,762.05 L677.6,762.16 L678.1,762.44 L678.6,762.88 L679.1,763.45 L679.6,764.08 L680.1,764.69 L680.6,765.20 L681.1,765.59 L681.6,765.68 L682.1,765.65 L682.6,765.57 L683.1,765.46 L683.6,765.36 L684.1,765.28 L684.6,765.23 L685.1,765.24 L685.6,765.31 L686.1,765.44 L686.6,765.60 L687.1,765.79 L687.6,766.00 L688.1,766.23 L688.6,766.49 L689.1,766.77 L689.6,767.06 L690.1,767.32 L690.6,767.53 L691.1,767.68 L691.6,767.76 L692.1,767.78 L692.6,767.73 L693.1,767.63 L693.6,767.45 L694.1,767.18 L694.6,766.78 L695.1,766.23 L695.6,765.52 L696.1,764.65 L696.6,763.66 L697.1,762.56 L697.6,761.40 L698.1,760.22 L698.6,759.01 L699.1,757.78 L699.6,756.51 L700.1,755.17 L700.6,753.75 L701.1,752.26 L701.6,750.71 L702.1,749.18 L702.6,747.72 L703.1,746.40 L703.6,745.22 L704.1,744.17 L704.6,743.21 L705.1,742.28 L705.6,741.34 L706.1,740.35 L706.6,739.31 L707.1,738.20 L707.6,737.04 L708.1,735.83 L708.6,734.61 L709.1,733.40 L709.6,732.24 L710.1,731.18 L710.6,730.29 L711.1,729.57 L711.6,729.07 L712.1,728.77 L712.6,728.67 L713.1,728.73 L713.6,728.90 L714.1,729.10 L714.6,729.27 L715.1,729.34 L715.6,729.26 L716.1,729.01 L716.6,728.57 L717.1,727.94 L717.6,727.05 L718.1,725.96 L718.6,724.71 L719.1,723.29 L719.6,721.59 L720.1,719.66 L720.6,717.54 L721.1,715.25 L721.6,712.84 L722.1,710.36 L722.6,707.86 L723.1,705.40 L723.6,702.99 L724.1,700.59 L724.6,698.21 L725.1,695.76 L725.6,693.19 L726.1,690.45 L726.6,687.55 L727.1,684.49 L727.6,681.33 L728.1,678.18 L728.6,675.21 L729.1,672.69 L729.6,671.41 L730.1,670.70 L730.6,670.66 L731.1,671.31 L731.6,672.62 L732.1,674.47 L732.6,676.74 L733.1,679.32 L733.6,682.15 L734.1,685.21 L734.6,688.46 L735.1,691.88 L735.6,695.43 L736.1,699.09 L736.6,702.83 L737.1,706.62 L737.6,710.44 L738.1,714.25 L738.6,717.98 L739.1,721.56 L739.6,724.94 L740.1,728.09 L740.6,731.03 L741.1,733.79 L741.6,736.37 L742.1,738.78 L742.6,740.95 L743.1,742.88 L743.6,744.56 L744.1,746.03 L744.6,747.35 L745.1,748.59 L745.6,749.81 L746.1,751.05 L746.6,752.34 L747.1,753.65 L747.6,754.96 L748.1,756.21 L748.6,757.38 L749.1,758.43 L749.6,759.35 L750.1,760.17 L750.6,760.92 L751.1,761.62 L751.6,762.26 L752.1,762.84 L752.6,763.38 L753.1,763.87 L753.6,764.35 L754.1,764.82 L754.6,765.34 L755.1,765.95 L755.6,766.56 L756.1,767.17 L756.6,767.77 L757.1,768.36 L757.6,768.94 L758.1,769.48 L758.6,769.95 L759.1,770.34 L759.6,770.61 L760.1,770.78 L760.6,770.93 L761.1,771.12 L761.6,771.38 L762.1,771.73 L762.6,772.13 L763.1,772.59 L763.6,773.07 L764.1,773.57 L764.6,774.09 L765.1,774.61 L765.6,775.08 L766.1,775.48 L766.6,775.79 L767.1,776.02 L767.6,776.20 L768.1,776.39 L768.6,776.62 L769.1,776.90 L769.6,777.22 L770.1,777.56 L770.6,777.88 L771.1,778.14 L771.6,778.32 L772.1,778.42 L772.6,778.47 L773.1,778.48 L773.6,778.52 L774.1,778.60 L774.6,778.75 L775.1,778.97 L775.6,779.23 L776.1,779.53 L776.6,779.82 L777.1,780.09 L777.6,780.37 L778.1,780.66 L778.6,780.96 L779.1,781.28 L779.6,781.60 L780.1,781.92 L780.6,782.24 L781.1,782.57 L781.6,782.92 L782.1,783.30 L782.6,783.69 L783.1,783.98 L783.6,784.24 L784.1,784.45 L784.6,784.62 L785.1,784.74 L785.6,784.84 L786.1,784.93 L786.6,785.00 L787.1,785.05 L787.6,785.08 L788.1,785.13 L788.6,785.25 L789.1,785.41 L789.6,785.61 L790.1,785.83 L790.6,786.04 L791.1,786.23 L791.6,786.38 L792.1,786.52 L792.6,786.64 L793.1,786.75 L793.6,786.86 L794.1,786.99 L794.6,787.13 L795.1,787.29 L795.6,787.48 L796.1,787.69 L796.6,787.91 L797.1,788.14 L797.6,788.37 L798.1,788.61 L798.6,788.85 L799.1,789.11 L799.6,789.36 L800.1,789.59 L800.6,789.78 L801.1,789.94 L801.6,790.07 L802.1,790.18 L802.6,790.28 L803.1,790.37 L803.6,790.44 L804.1,790.50 L804.6,790.53 L805.1,790.54 L805.6,790.53 L806.1,790.49 L806.6,790.41 L807.1,790.30 L807.6,790.16 L808.1,790.03 L808.6,789.91 L809.1,789.81 L809.6,789.74 L810.1,789.68 L810.6,789.62 L811.1,789.57 L811.6,789.52 L812.1,789.49 L812.6,789.49 L813.1,789.51 L813.6,789.55 L814.1,789.60 L814.6,789.67 L815.1,789.77 L815.6,789.88 L816.1,790.08 L816.6,790.33 L817.1,790.66 L817.6,791.03 L818.1,791.40 L818.6,791.74 L819.1,792.01 L819.6,792.18 L820.1,792.25 L820.6,792.21 L821.1,792.13 L821.6,792.02 L822.1,791.91 L822.6,791.83 L823.1,791.78 L823.6,791.73 L824.1,791.67 L824.6,791.60 L825.1,791.53 L825.6,791.46 L826.1,791.40 L826.6,791.35 L827.1,791.30 L827.6,791.25 L828.1,791.22 L828.6,791.21 L829.1,791.23 L829.6,791.26 L830.1,791.28 L830.6,791.27 L831.1,791.25 L831.6,791.22 L832.1,791.27 L832.6,791.37 L833.1,791.54 L833.6,791.75 L834.1,792.01 L834.6,792.29 L835.1,792.58 L835.6,792.85 L836.1,793.06 L836.6,793.20 L837.1,793.26 L837.6,793.28 L838.1,793.30 L838.6,793.34 L839.1,793.45 L839.6,793.62 L840.1,793.82 L840.6,794.05 L841.1,794.27 L841.6,794.47 L842.1,794.66 L842.6,794.85 L843.1,795.05 L843.6,795.25 L844.1,795.47 L844.6,795.67 L845.1,795.85 L845.6,796.00 L846.1,796.14 L846.6,796.28 L847.1,796.42 L847.6,796.57 L848.1,796.73 L848.6,796.86 L849.1,796.97 L849.6,797.02 L850.1,797.01 L850.6,796.96 L851.1,796.88 L851.6,796.78 L852.1,796.68 L852.6,796.58 L853.1,796.47 L853.6,796.36 L854.1,796.23 L854.6,796.10 L855.1,795.96 L855.6,795.83 L856.1,795.72 L856.6,795.62 L857.1,795.54 L857.6,795.47 L858.1,795.40 L858.6,795.33 L859.1,795.26 L859.6,795.21 L860.1,795.17 L860.6,795.15 L861.1,795.14 L861.6,795.12 L862.1,795.08 L862.6,794.98 L863.1,794.82 L863.6,794.63 L864.1,794.41 L864.6,794.21 L865.1,794.07 L865.6,794.01 L866.1,794.06 L866.6,794.21 L867.1,794.43 L867.6,794.68 L868.1,794.92 L868.6,795.09 L869.1,795.17 L869.6,795.14 L870.1,795.05 L870.6,794.93 L871.1,794.85 L871.6,794.82 L872.1,794.85 L872.6,794.94 L873.1,795.04 L873.6,795.15 L874.1,795.25 L874.6,795.34 L875.1,795.40 L875.6,795.41 L876.1,795.37 L876.6,795.26 L877.1,795.11 L877.6,794.95 L878.1,794.79 L878.6,794.64 L879.1,794.52 L879.6,794.39 L880.1,794.26 L880.6,794.11 L881.1,793.97 L881.6,793.86 L882.1,793.80 L882.6,793.79 L883.1,793.82 L883.6,793.84 L884.1,793.83 L884.6,793.80 L885.1,793.74 L885.6,793.70 L886.1,793.71 L886.6,793.77 L887.1,793.87 L887.6,793.97 L888.1,794.03 L888.6,794.02 L889.1,793.94 L889.6,793.83 L890.1,793.70 L890.6,793.60 L891.1,793.51 L891.6,793.44 L892.1,793.38 L892.6,793.30 L893.1,793.21 L893.6,793.10 L894.1,792.96 L894.6,792.81 L895.1,792.65 L895.6,792.47 L896.1,792.29 L896.6,792.11 L897.1,791.93 L897.6,791.75 L898.1,791.58 L898.6,791.43 L899.1,791.34 L899.6,791.31 L900.1,791.32 L900.6,791.36 L901.1,791.40 L901.6,791.40 L902.1,791.35 L902.6,791.24 L903.1,791.09 L903.6,790.91 L904.1,790.73 L904.6,790.56 L905.1,790.41 L905.6,790.29 L906.1,790.19 L906.6,790.10 L907.1,790.02 L907.6,789.96 L908.1,789.94 L908.6,789.95 L909.1,789.99 L909.6,790.04 L910.1,790.05 L910.6,790.00 L911.1,789.84 L911.6,789.58 L912.1,789.22 L912.6,788.80 L913.1,788.35 L913.6,787.89 L914.1,787.46 L914.6,787.08 L915.1,786.76 L915.6,786.51 L916.1,786.35 L916.6,786.27 L917.1,786.24" fill="none" stroke="#7f1518" stroke-width="2.7" stroke-linejoin="round"/>
<path d="M578.6,755.12 L579.1,754.99 L579.6,754.83 L580.1,754.65 L580.6,754.47 L581.1,754.27 L581.6,754.09 L582.1,753.91 L582.6,753.74 L583.1,753.56 L583.6,753.39 L584.1,753.21 L584.6,753.06 L585.1,752.98 L585.6,752.96 L586.1,753.00 L586.6,753.08 L587.1,753.18 L587.6,753.25 L588.1,753.28 L588.6,753.27 L589.1,753.22 L589.6,753.16 L590.1,753.10 L590.6,753.06 L591.1,753.04 L591.6,753.03 L592.1,753.01 L592.6,752.96 L593.1,752.86 L593.6,752.70 L594.1,752.51 L594.6,752.32 L595.1,752.12 L595.6,751.92 L596.1,751.72 L596.6,751.49 L597.1,751.23 L597.6,750.94 L598.1,750.62 L598.6,750.27 L599.1,749.90 L599.6,749.49 L600.1,749.02 L600.6,748.44 L601.1,747.69 L601.6,746.64 L602.1,745.18 L602.6,743.17 L603.1,740.49 L603.6,737.08 L604.1,733.01 L604.6,728.78 L605.1,725.50 L605.6,724.58 L606.1,726.45 L606.6,730.12 L607.1,734.18 L607.6,737.76 L608.1,740.62 L608.6,742.81 L609.1,744.44 L609.6,745.67 L610.1,746.59 L610.6,747.25 L611.1,747.64 L611.6,747.67 L612.1,747.39 L612.6,746.74 L613.1,745.71 L613.6,744.29 L614.1,742.59 L614.6,740.75 L615.1,739.00 L615.6,737.65 L616.1,736.98 L616.6,737.13 L617.1,738.02 L617.6,739.48 L618.1,741.18 L618.6,742.87 L619.1,744.41 L619.6,745.74 L620.1,746.85 L620.6,747.79 L621.1,748.57 L621.6,749.23 L622.1,749.79 L622.6,750.22 L623.1,750.54 L623.6,750.74 L624.1,750.85 L624.6,750.87 L625.1,750.86 L625.6,750.83 L626.1,750.83 L626.6,750.85 L627.1,750.89 L627.6,750.92 L628.1,750.92 L628.6,750.86 L629.1,750.74 L629.6,750.55 L630.1,750.33 L630.6,750.08 L631.1,749.84 L631.6,749.62 L632.1,749.46 L632.6,749.36 L633.1,749.33 L633.6,749.34 L634.1,749.35 L634.6,749.31 L635.1,749.22 L635.6,749.05 L636.1,748.86 L636.6,748.66 L637.1,748.49 L637.6,748.37 L638.1,748.30 L638.6,748.26 L639.1,748.25 L639.6,748.26 L640.1,748.25 L640.6,748.23 L641.1,748.16 L641.6,748.03 L642.1,747.82 L642.6,747.52 L643.1,747.13 L643.6,746.65 L644.1,746.12 L644.6,745.54 L645.1,744.93 L645.6,744.29 L646.1,743.60 L646.6,742.84 L647.1,742.00 L647.6,741.06 L648.1,740.03 L648.6,738.92 L649.1,737.77 L649.6,736.56 L650.1,735.31 L650.6,734.01 L651.1,732.66 L651.6,731.26 L652.1,729.83 L652.6,728.40 L653.1,726.98 L653.6,725.63 L654.1,724.40 L654.6,723.38 L655.1,722.62 L655.6,722.18 L656.1,722.04 L656.6,722.18 L657.1,722.55 L657.6,723.09 L658.1,723.76 L658.6,724.49 L659.1,725.28 L659.6,726.06 L660.1,726.82 L660.6,727.52 L661.1,728.15 L661.6,728.69 L662.1,729.15 L662.6,729.51 L663.1,729.78 L663.6,729.99 L664.1,730.16 L664.6,730.32 L665.1,730.52 L665.6,730.80 L666.1,731.14 L666.6,731.54 L667.1,731.99 L667.6,732.45 L668.1,732.92 L668.6,733.40 L669.1,733.87 L669.6,734.32 L670.1,734.73 L670.6,735.08 L671.1,735.35 L671.6,735.55 L672.1,735.68 L672.6,735.76 L673.1,735.81 L673.6,735.85 L674.1,735.88 L674.6,735.91 L675.1,735.93 L675.6,735.95 L676.1,735.95 L676.6,735.97 L677.1,736.02 L677.6,736.12 L678.1,736.29 L678.6,736.52 L679.1,736.80 L679.6,737.11 L680.1,737.44 L680.6,737.78 L681.1,738.11 L681.6,738.38 L682.1,738.60 L682.6,738.78 L683.1,738.92 L683.6,739.01 L684.1,739.09 L684.6,739.16 L685.1,739.25 L685.6,739.38 L686.1,739.55 L686.6,739.75 L687.1,740.01 L687.6,740.32 L688.1,740.68 L688.6,741.07 L689.1,741.48 L689.6,741.86 L690.1,742.18 L690.6,742.41 L691.1,742.54 L691.6,742.59 L692.1,742.58 L692.6,742.53 L693.1,742.44 L693.6,742.32 L694.1,742.14 L694.6,741.91 L695.1,741.62 L695.6,741.27 L696.1,740.87 L696.6,740.22 L697.1,739.45 L697.6,738.65 L698.1,737.83 L698.6,737.00 L699.1,736.17 L699.6,735.34 L700.1,734.50 L700.6,733.61 L701.1,732.66 L701.6,731.65 L702.1,730.58 L702.6,729.46 L703.1,728.29 L703.6,727.08 L704.1,725.81 L704.6,724.48 L705.1,723.09 L705.6,721.64 L706.1,720.13 L706.6,718.58 L707.1,717.00 L707.6,715.40 L708.1,713.77 L708.6,712.14 L709.1,710.53 L709.6,709.00 L710.1,707.59 L710.6,706.33 L711.1,705.24 L711.6,704.35 L712.1,703.68 L712.6,703.19 L713.1,702.86 L713.6,702.63 L714.1,702.48 L714.6,702.33 L715.1,702.15 L715.6,701.89 L716.1,701.49 L716.6,700.93 L717.1,700.21 L717.6,699.31 L718.1,698.26 L718.6,697.06 L719.1,695.72 L719.6,694.27 L720.1,692.72 L720.6,691.11 L721.1,689.43 L721.6,687.69 L722.1,685.87 L722.6,683.94 L723.1,681.87 L723.6,679.65 L724.1,677.30 L724.6,674.77 L725.1,672.10 L725.6,669.34 L726.1,666.52 L726.6,663.63 L727.1,660.66 L727.6,657.61 L728.1,654.49 L728.6,651.35 L729.1,648.30 L729.6,645.49 L730.1,643.21 L730.6,642.21 L731.1,641.79 L731.6,642.00 L732.1,642.82 L732.6,644.22 L733.1,646.12 L733.6,648.40 L734.1,650.97 L734.6,653.71 L735.1,656.52 L735.6,659.35 L736.1,662.15 L736.6,664.90 L737.1,667.63 L737.6,670.34 L738.1,673.04 L738.6,675.75 L739.1,678.42 L739.6,681.05 L740.1,683.59 L740.6,686.02 L741.1,688.30 L741.6,690.44 L742.1,692.43 L742.6,694.28 L743.1,696.01 L743.6,697.65 L744.1,699.20 L744.6,700.65 L745.1,702.00 L745.6,703.23 L746.1,704.35 L746.6,705.38 L747.1,706.32 L747.6,707.19 L748.1,707.99 L748.6,708.74 L749.1,709.45 L749.6,710.18 L750.1,710.92 L750.6,711.77 L751.1,712.71 L751.6,713.74 L752.1,714.83 L752.6,715.92 L753.1,716.98 L753.6,717.99 L754.1,718.94 L754.6,719.85 L755.1,720.70 L755.6,721.48 L756.1,722.15 L756.6,722.69 L757.1,723.13 L757.6,723.48 L758.1,723.73 L758.6,723.93 L759.1,724.10 L759.6,724.25 L760.1,724.39 L760.6,724.53 L761.1,724.70 L761.6,724.90 L762.1,725.13 L762.6,725.46 L763.1,725.87 L763.6,726.33 L764.1,726.84 L764.6,727.36 L765.1,727.84 L765.6,728.27 L766.1,728.66 L766.6,729.01 L767.1,729.36 L767.6,729.70 L768.1,730.03 L768.6,730.32 L769.1,730.54 L769.6,730.67 L770.1,730.72 L770.6,730.71 L771.1,730.70 L771.6,730.71 L772.1,730.76 L772.6,730.87 L773.1,731.00 L773.6,731.12 L774.1,731.21 L774.6,731.24 L775.1,731.23 L775.6,731.19 L776.1,731.14 L776.6,731.12 L777.1,731.14 L777.6,731.22 L778.1,731.38 L778.6,731.62 L779.1,731.95 L779.6,732.36 L780.1,732.83 L780.6,733.33 L781.1,733.84 L781.6,734.33 L782.1,734.76 L782.6,735.14 L783.1,735.48 L783.6,735.78 L784.1,736.07 L784.6,736.34 L785.1,736.62 L785.6,736.93 L786.1,737.26 L786.6,737.63 L787.1,738.03 L787.6,738.43 L788.1,738.87 L788.6,739.35 L789.1,739.79 L789.6,740.18 L790.1,740.49 L790.6,740.73 L791.1,740.91 L791.6,741.05 L792.1,741.18 L792.6,741.38 L793.1,741.58 L793.6,741.80 L794.1,742.02 L794.6,742.26 L795.1,742.52 L795.6,742.80 L796.1,743.10 L796.6,743.40 L797.1,743.69 L797.6,743.92 L798.1,744.17 L798.6,744.38 L799.1,744.54 L799.6,744.67 L800.1,744.77 L800.6,744.86 L801.1,744.95 L801.6,745.03 L802.1,745.20 L802.6,745.37 L803.1,745.56 L803.6,745.74 L804.1,745.92 L804.6,746.09 L805.1,746.24 L805.6,746.40 L806.1,746.58 L806.6,746.80 L807.1,747.00 L807.6,747.22 L808.1,747.47 L808.6,747.73 L809.1,748.00 L809.6,748.29 L810.1,748.58 L810.6,748.88 L811.1,749.15 L811.6,749.36 L812.1,749.49 L812.6,749.53 L813.1,749.49 L813.6,749.39 L814.1,749.28 L814.6,749.19 L815.1,749.16 L815.6,749.19 L816.1,749.29 L816.6,749.43 L817.1,749.57 L817.6,749.70 L818.1,749.78 L818.6,749.82 L819.1,749.81 L819.6,749.77 L820.1,749.70 L820.6,749.63 L821.1,749.57 L821.6,749.54 L822.1,749.56 L822.6,749.61 L823.1,749.69 L823.6,749.76 L824.1,749.82 L824.6,749.85 L825.1,749.85 L825.6,749.83 L826.1,749.81 L826.6,749.79 L827.1,749.80 L827.6,749.84 L828.1,749.89 L828.6,749.96 L829.1,750.01 L829.6,750.06 L830.1,750.08 L830.6,750.09 L831.1,750.08 L831.6,750.09 L832.1,750.12 L832.6,750.19 L833.1,750.31 L833.6,750.48 L834.1,750.68 L834.6,750.89 L835.1,751.08 L835.6,751.24 L836.1,751.36 L836.6,751.42 L837.1,751.41 L837.6,751.33 L838.1,751.20 L838.6,751.03 L839.1,750.85 L839.6,750.69 L840.1,750.57 L840.6,750.50 L841.1,750.50 L841.6,750.57 L842.1,750.70 L842.6,750.87 L843.1,751.05 L843.6,751.21 L844.1,751.35 L844.6,751.47 L845.1,751.59 L845.6,751.70 L846.1,751.81 L846.6,751.88 L847.1,751.92 L847.6,751.93 L848.1,751.94 L848.6,751.98 L849.1,752.09 L849.6,752.26 L850.1,752.47 L850.6,752.69 L851.1,752.89 L851.6,753.05 L852.1,753.18 L852.6,753.29 L853.1,753.39 L853.6,753.49 L854.1,753.60 L854.6,753.68 L855.1,753.72 L855.6,753.67 L856.1,753.53 L856.6,753.31 L857.1,753.03 L857.6,752.75 L858.1,752.49 L858.6,752.28 L859.1,752.12 L859.6,752.02 L860.1,751.95 L860.6,751.90 L861.1,751.85 L861.6,751.77 L862.1,751.65 L862.6,751.47 L863.1,751.24 L863.6,751.01 L864.1,750.81 L864.6,750.67 L865.1,750.62 L865.6,750.65 L866.1,750.72 L866.6,750.81 L867.1,750.90 L867.6,750.96 L868.1,751.01 L868.6,751.05 L869.1,751.10 L869.6,751.17 L870.1,751.25 L870.6,751.37 L871.1,751.50 L871.6,751.67 L872.1,751.88 L872.6,752.13 L873.1,752.41 L873.6,752.73 L874.1,753.06 L874.6,753.37 L875.1,753.65 L875.6,753.90 L876.1,754.10 L876.6,754.26 L877.1,754.40 L877.6,754.49 L878.1,754.55 L878.6,754.57 L879.1,754.56 L879.6,754.52 L880.1,754.49 L880.6,754.45 L881.1,754.38 L881.6,754.27 L882.1,754.07 L882.6,753.77 L883.1,753.40 L883.6,753.00 L884.1,752.62 L884.6,752.31 L885.1,752.10 L885.6,751.98 L886.1,751.91 L886.6,751.85 L887.1,751.77 L887.6,751.62 L888.1,751.42 L888.6,751.18 L889.1,750.93 L889.6,750.70 L890.1,750.50 L890.6,750.33 L891.1,750.20 L891.6,750.10 L892.1,750.02 L892.6,749.98 L893.1,749.96 L893.6,749.96 L894.1,749.97 L894.6,749.97 L895.1,749.96 L895.6,749.92 L896.1,749.88 L896.6,749.83 L897.1,749.80 L897.6,749.80 L898.1,749.86 L898.6,749.98 L899.1,750.14 L899.6,750.32 L900.1,750.50 L900.6,750.65 L901.1,750.78 L901.6,750.88 L902.1,750.95 L902.6,751.02 L903.1,751.10 L903.6,751.18 L904.1,751.24 L904.6,751.24 L905.1,751.17 L905.6,751.02 L906.1,750.80 L906.6,750.54 L907.1,750.26 L907.6,750.00 L908.1,749.73 L908.6,749.44 L909.1,749.12 L909.6,748.72 L910.1,748.27 L910.6,747.76 L911.1,747.23 L911.6,746.69 L912.1,746.16 L912.6,745.66 L913.1,745.22 L913.6,744.87 L914.1,744.64 L914.6,744.50 L915.1,744.46 L915.6,744.46 L916.1,744.47 L916.6,744.46 L917.1,744.42" fill="none" stroke="#000000" stroke-width="3.2" stroke-linejoin="round"/>
<path d="M578.6,728.01 L579.1,727.90 L579.6,727.76 L580.1,727.57 L580.6,727.35 L581.1,727.10 L581.6,726.84 L582.1,726.60 L582.6,726.39 L583.1,726.22 L583.6,726.09 L584.1,725.99 L584.6,725.90 L585.1,725.82 L585.6,725.72 L586.1,725.60 L586.6,725.45 L587.1,725.31 L587.6,725.18 L588.1,725.09 L588.6,725.07 L589.1,725.11 L589.6,725.21 L590.1,725.34 L590.6,725.48 L591.1,725.61 L591.6,725.71 L592.1,725.78 L592.6,725.78 L593.1,725.72 L593.6,725.61 L594.1,725.48 L594.6,725.34 L595.1,725.24 L595.6,725.20 L596.1,725.22 L596.6,725.25 L597.1,725.25 L597.6,725.17 L598.1,724.97 L598.6,724.61 L599.1,724.07 L599.6,723.34 L600.1,722.43 L600.6,721.36 L601.1,720.13 L601.6,718.73 L602.1,717.10 L602.6,715.11 L603.1,712.58 L603.6,709.34 L604.1,705.38 L604.6,701.13 L605.1,697.77 L605.6,696.80 L606.1,698.72 L606.6,702.52 L607.1,706.70 L607.6,710.39 L608.1,713.36 L608.6,715.63 L609.1,717.35 L609.6,718.60 L610.1,719.46 L610.6,719.96 L611.1,720.12 L611.6,719.94 L612.1,719.51 L612.6,718.81 L613.1,717.80 L613.6,716.45 L614.1,714.81 L614.6,712.98 L615.1,711.21 L615.6,709.80 L616.1,709.07 L616.6,709.16 L617.1,710.08 L617.6,711.51 L618.1,713.12 L618.6,714.69 L619.1,716.13 L619.6,717.39 L620.1,718.49 L620.6,719.44 L621.1,720.24 L621.6,720.93 L622.1,721.51 L622.6,722.02 L623.1,722.48 L623.6,722.88 L624.1,723.23 L624.6,723.49 L625.1,723.65 L625.6,723.71 L626.1,723.69 L626.6,723.62 L627.1,723.53 L627.6,723.45 L628.1,723.38 L628.6,723.30 L629.1,723.19 L629.6,723.04 L630.1,722.86 L630.6,722.67 L631.1,722.52 L631.6,722.42 L632.1,722.38 L632.6,722.39 L633.1,722.40 L633.6,722.38 L634.1,722.28 L634.6,722.12 L635.1,721.90 L635.6,721.67 L636.1,721.46 L636.6,721.29 L637.1,721.17 L637.6,721.07 L638.1,720.97 L638.6,720.87 L639.1,720.76 L639.6,720.64 L640.1,720.53 L640.6,720.41 L641.1,720.28 L641.6,720.13 L642.1,719.97 L642.6,719.79 L643.1,719.59 L643.6,719.33 L644.1,718.97 L644.6,718.47 L645.1,717.81 L645.6,717.01 L646.1,716.11 L646.6,715.14 L647.1,714.16 L647.6,713.18 L648.1,712.18 L648.6,711.15 L649.1,710.06 L649.6,708.90 L650.1,707.67 L650.6,706.35 L651.1,704.96 L651.6,703.48 L652.1,701.94 L652.6,700.37 L653.1,698.83 L653.6,697.40 L654.1,696.17 L654.6,695.22 L655.1,694.61 L655.6,694.35 L656.1,694.43 L656.6,694.80 L657.1,695.41 L657.6,696.17 L658.1,697.05 L658.6,698.00 L659.1,698.99 L659.6,699.99 L660.1,700.99 L660.6,701.96 L661.1,702.89 L661.6,703.72 L662.1,704.46 L662.6,705.08 L663.1,705.58 L663.6,705.96 L664.1,706.27 L664.6,706.54 L665.1,706.80 L665.6,707.09 L666.1,707.42 L666.6,707.77 L667.1,708.13 L667.6,708.49 L668.1,708.83 L668.6,709.15 L669.1,709.46 L669.6,709.74 L670.1,709.99 L670.6,710.21 L671.1,710.39 L671.6,710.51 L672.1,710.57 L672.6,710.58 L673.1,710.51 L673.6,710.35 L674.1,710.11 L674.6,709.78 L675.1,709.39 L675.6,709.00 L676.1,708.67 L676.6,708.46 L677.1,708.39 L677.6,708.49 L678.1,708.75 L678.6,709.17 L679.1,709.70 L679.6,710.30 L680.1,710.93 L680.6,711.53 L681.1,712.08 L681.6,712.49 L682.1,712.81 L682.6,713.06 L683.1,713.26 L683.6,713.41 L684.1,713.53 L684.6,713.63 L685.1,713.72 L685.6,713.84 L686.1,713.99 L686.6,714.16 L687.1,714.37 L687.6,714.59 L688.1,714.82 L688.6,715.03 L689.1,715.22 L689.6,715.39 L690.1,715.58 L690.6,715.81 L691.1,716.09 L691.6,716.42 L692.1,716.77 L692.6,717.09 L693.1,717.34 L693.6,717.48 L694.1,717.48 L694.6,717.34 L695.1,717.07 L695.6,716.67 L696.1,716.18 L696.6,715.61 L697.1,714.64 L697.6,713.64 L698.1,712.62 L698.6,711.61 L699.1,710.61 L699.6,709.63 L700.1,708.66 L700.6,707.70 L701.1,706.74 L701.6,705.78 L702.1,704.80 L702.6,703.80 L703.1,702.79 L703.6,701.74 L704.1,700.66 L704.6,699.54 L705.1,698.36 L705.6,697.12 L706.1,695.80 L706.6,694.40 L707.1,692.92 L707.6,691.37 L708.1,689.77 L708.6,688.16 L709.1,686.59 L709.6,685.10 L710.1,683.72 L710.6,682.47 L711.1,681.34 L711.6,680.32 L712.1,679.39 L712.6,678.50 L713.1,677.62 L713.6,676.72 L714.1,675.75 L714.6,674.71 L715.1,673.56 L715.6,672.33 L716.1,671.02 L716.6,669.63 L717.1,668.18 L717.6,666.65 L718.1,665.04 L718.6,663.34 L719.1,661.55 L719.6,659.67 L720.1,657.73 L720.6,655.75 L721.1,653.74 L721.6,651.68 L722.1,649.59 L722.6,647.45 L723.1,645.28 L723.6,643.08 L724.1,640.88 L724.6,638.66 L725.1,636.42 L725.6,634.12 L726.1,631.76 L726.6,629.35 L727.1,626.90 L727.6,624.47 L728.1,622.11 L728.6,619.87 L729.1,617.83 L729.6,616.02 L730.1,614.52 L730.6,613.47 L731.1,612.88 L731.6,612.78 L732.1,613.21 L732.6,614.20 L733.1,615.73 L733.6,617.78 L734.1,620.29 L734.6,623.18 L735.1,626.35 L735.6,629.69 L736.1,633.08 L736.6,636.44 L737.1,639.68 L737.6,642.72 L738.1,645.52 L738.6,648.08 L739.1,650.43 L739.6,652.64 L740.1,654.76 L740.6,656.87 L741.1,658.98 L741.6,661.13 L742.1,663.34 L742.6,665.52 L743.1,667.63 L743.6,669.65 L744.1,671.59 L744.6,673.50 L745.1,675.37 L745.6,677.21 L746.1,679.02 L746.6,680.80 L747.1,682.53 L747.6,684.16 L748.1,685.66 L748.6,686.99 L749.1,688.15 L749.6,689.16 L750.1,690.09 L750.6,690.98 L751.1,691.88 L751.6,692.80 L752.1,693.73 L752.6,694.65 L753.1,695.55 L753.6,696.38 L754.1,697.15 L754.6,697.85 L755.1,698.51 L755.6,699.16 L756.1,699.80 L756.6,700.42 L757.1,700.99 L757.6,701.52 L758.1,701.98 L758.6,702.37 L759.1,702.68 L759.6,702.93 L760.1,703.11 L760.6,703.24 L761.1,703.36 L761.6,703.48 L762.1,703.65 L762.6,703.88 L763.1,704.21 L763.6,704.71 L764.1,705.27 L764.6,705.85 L765.1,706.42 L765.6,706.98 L766.1,707.48 L766.6,707.86 L767.1,708.17 L767.6,708.41 L768.1,708.59 L768.6,708.72 L769.1,708.79 L769.6,708.84 L770.1,708.86 L770.6,708.89 L771.1,708.93 L771.6,709.00 L772.1,709.10 L772.6,709.23 L773.1,709.37 L773.6,709.51 L774.1,709.65 L774.6,709.77 L775.1,709.86 L775.6,709.91 L776.1,709.91 L776.6,709.90 L777.1,709.92 L777.6,709.99 L778.1,710.14 L778.6,710.36 L779.1,710.62 L779.6,710.86 L780.1,711.07 L780.6,711.23 L781.1,711.33 L781.6,711.39 L782.1,711.41 L782.6,711.41 L783.1,711.41 L783.6,711.43 L784.1,711.47 L784.6,711.52 L785.1,711.59 L785.6,711.70 L786.1,711.84 L786.6,712.03 L787.1,712.28 L787.6,712.57 L788.1,712.87 L788.6,713.17 L789.1,713.46 L789.6,713.73 L790.1,713.97 L790.6,714.19 L791.1,714.37 L791.6,714.51 L792.1,714.61 L792.6,714.69 L793.1,714.76 L793.6,714.85 L794.1,714.95 L794.6,715.07 L795.1,715.20 L795.6,715.34 L796.1,715.51 L796.6,715.69 L797.1,715.90 L797.6,716.14 L798.1,716.38 L798.6,716.64 L799.1,716.89 L799.6,717.16 L800.1,717.42 L800.6,717.69 L801.1,717.96 L801.6,718.23 L802.1,718.48 L802.6,718.71 L803.1,718.92 L803.6,719.11 L804.1,719.25 L804.6,719.38 L805.1,719.49 L805.6,719.59 L806.1,719.71 L806.6,719.86 L807.1,720.03 L807.6,720.19 L808.1,720.34 L808.6,720.44 L809.1,720.49 L809.6,720.50 L810.1,720.49 L810.6,720.47 L811.1,720.46 L811.6,720.44 L812.1,720.41 L812.6,720.37 L813.1,720.30 L813.6,720.22 L814.1,720.14 L814.6,720.06 L815.1,720.00 L815.6,719.97 L816.1,719.97 L816.6,719.98 L817.1,720.01 L817.6,720.03 L818.1,720.07 L818.6,720.09 L819.1,720.08 L819.6,720.09 L820.1,720.12 L820.6,720.21 L821.1,720.35 L821.6,720.53 L822.1,720.70 L822.6,720.84 L823.1,720.93 L823.6,720.95 L824.1,720.93 L824.6,720.90 L825.1,720.87 L825.6,720.85 L826.1,720.84 L826.6,720.82 L827.1,720.79 L827.6,720.74 L828.1,720.67 L828.6,720.60 L829.1,720.53 L829.6,720.48 L830.1,720.45 L830.6,720.45 L831.1,720.48 L831.6,720.51 L832.1,720.54 L832.6,720.56 L833.1,720.58 L833.6,720.60 L834.1,720.63 L834.6,720.69 L835.1,720.81 L835.6,720.98 L836.1,721.21 L836.6,721.46 L837.1,721.73 L837.6,721.98 L838.1,722.23 L838.6,722.46 L839.1,722.68 L839.6,722.87 L840.1,723.04 L840.6,723.18 L841.1,723.32 L841.6,723.47 L842.1,723.66 L842.6,723.92 L843.1,724.23 L843.6,724.61 L844.1,725.04 L844.6,725.50 L845.1,725.96 L845.6,726.40 L846.1,726.80 L846.6,727.12 L847.1,727.36 L847.6,727.54 L848.1,727.65 L848.6,727.73 L849.1,727.79 L849.6,727.83 L850.1,727.85 L850.6,727.84 L851.1,727.77 L851.6,727.67 L852.1,727.54 L852.6,727.41 L853.1,727.29 L853.6,727.21 L854.1,727.18 L854.6,727.22 L855.1,727.30 L855.6,727.40 L856.1,727.51 L856.6,727.58 L857.1,727.62 L857.6,727.60 L858.1,727.56 L858.6,727.50 L859.1,727.45 L859.6,727.42 L860.1,727.40 L860.6,727.39 L861.1,727.38 L861.6,727.36 L862.1,727.34 L862.6,727.32 L863.1,727.31 L863.6,727.31 L864.1,727.31 L864.6,727.30 L865.1,727.26 L865.6,727.20 L866.1,727.13 L866.6,727.07 L867.1,727.04 L867.6,727.06 L868.1,727.13 L868.6,727.23 L869.1,727.37 L869.6,727.52 L870.1,727.68 L870.6,727.84 L871.1,728.00 L871.6,728.14 L872.1,728.28 L872.6,728.44 L873.1,728.61 L873.6,728.81 L874.1,729.03 L874.6,729.27 L875.1,729.50 L875.6,729.73 L876.1,729.93 L876.6,730.11 L877.1,730.29 L877.6,730.47 L878.1,730.65 L878.6,730.81 L879.1,730.95 L879.6,731.03 L880.1,731.06 L880.6,731.03 L881.1,730.94 L881.6,730.78 L882.1,730.57 L882.6,730.30 L883.1,730.01 L883.6,729.74 L884.1,729.50 L884.6,729.33 L885.1,729.22 L885.6,729.17 L886.1,729.19 L886.6,729.23 L887.1,729.28 L887.6,729.34 L888.1,729.37 L888.6,729.39 L889.1,729.39 L889.6,729.38 L890.1,729.38 L890.6,729.39 L891.1,729.42 L891.6,729.47 L892.1,729.54 L892.6,729.61 L893.1,729.65 L893.6,729.66 L894.1,729.62 L894.6,729.55 L895.1,729.49 L895.6,729.44 L896.1,729.41 L896.6,729.37 L897.1,729.31 L897.6,729.21 L898.1,729.09 L898.6,728.98 L899.1,728.91 L899.6,728.90 L900.1,728.94 L900.6,729.01 L901.1,729.09 L901.6,729.14 L902.1,729.17 L902.6,729.17 L903.1,729.16 L903.6,729.13 L904.1,729.13 L904.6,729.15 L905.1,729.21 L905.6,729.30 L906.1,729.40 L906.6,729.50 L907.1,729.59 L907.6,729.65 L908.1,729.68 L908.6,729.67 L909.1,729.64 L909.6,729.60 L910.1,729.58 L910.6,729.56 L911.1,729.56 L911.6,729.54 L912.1,729.48 L912.6,729.36 L913.1,729.21 L913.6,729.04 L914.1,728.88 L914.6,728.74 L915.1,728.63 L915.6,728.53 L916.1,728.45 L916.6,728.40 L917.1,728.38" fill="none" stroke="#e3292a" stroke-width="2.7" stroke-linejoin="round"/>
<path d="M578.6,688.98 L579.1,688.89 L579.6,688.79 L580.1,688.69 L580.6,688.58 L581.1,688.44 L581.6,688.24 L582.1,687.97 L582.6,687.66 L583.1,687.36 L583.6,687.10 L584.1,686.91 L584.6,686.83 L585.1,686.88 L585.6,687.00 L586.1,687.16 L586.6,687.32 L587.1,687.46 L587.6,687.57 L588.1,687.64 L588.6,687.67 L589.1,687.67 L589.6,687.66 L590.1,687.67 L590.6,687.72 L591.1,687.84 L591.6,688.01 L592.1,688.20 L592.6,688.39 L593.1,688.54 L593.6,688.64 L594.1,688.71 L594.6,688.77 L595.1,688.84 L595.6,688.92 L596.1,689.01 L596.6,689.09 L597.1,689.16 L597.6,689.22 L598.1,689.24 L598.6,689.22 L599.1,689.12 L599.6,688.90 L600.1,688.52 L600.6,687.93 L601.1,687.06 L601.6,685.83 L602.1,684.15 L602.6,681.85 L603.1,678.74 L603.6,674.66 L604.1,669.63 L604.6,664.25 L605.1,660.02 L605.6,658.85 L606.1,661.40 L606.6,666.32 L607.1,671.72 L607.6,676.48 L608.1,680.29 L608.6,683.21 L609.1,685.41 L609.6,687.01 L610.1,688.12 L610.6,688.78 L611.1,689.03 L611.6,688.86 L612.1,688.27 L612.6,687.27 L613.1,685.84 L613.6,684.01 L614.1,681.84 L614.6,679.49 L615.1,677.27 L615.6,675.61 L616.1,674.96 L616.6,675.55 L617.1,677.27 L617.6,679.71 L618.1,682.41 L618.6,685.03 L619.1,687.38 L619.6,689.38 L620.1,691.05 L620.6,692.41 L621.1,693.52 L621.6,694.44 L622.1,695.23 L622.6,695.92 L623.1,696.51 L623.6,697.01 L624.1,697.43 L624.6,697.79 L625.1,698.13 L625.6,698.46 L626.1,698.82 L626.6,699.21 L627.1,699.54 L627.6,699.80 L628.1,700.00 L628.6,700.14 L629.1,700.22 L629.6,700.28 L630.1,700.29 L630.6,700.27 L631.1,700.22 L631.6,700.12 L632.1,700.00 L632.6,699.84 L633.1,699.67 L633.6,699.50 L634.1,699.47 L634.6,699.49 L635.1,699.56 L635.6,699.69 L636.1,699.87 L636.6,700.08 L637.1,700.32 L637.6,700.55 L638.1,700.76 L638.6,700.91 L639.1,700.99 L639.6,700.99 L640.1,700.90 L640.6,700.74 L641.1,700.50 L641.6,700.21 L642.1,699.89 L642.6,699.56 L643.1,699.23 L643.6,698.92 L644.1,698.60 L644.6,698.25 L645.1,697.84 L645.6,697.30 L646.1,696.60 L646.6,695.73 L647.1,694.68 L647.6,693.48 L648.1,692.16 L648.6,690.73 L649.1,689.20 L649.6,687.57 L650.1,685.84 L650.6,684.02 L651.1,682.11 L651.6,680.11 L652.1,678.03 L652.6,675.91 L653.1,673.81 L653.6,671.84 L654.1,670.15 L654.6,668.86 L655.1,668.08 L655.6,667.85 L656.1,668.13 L656.6,668.84 L657.1,669.88 L657.6,671.12 L658.1,672.47 L658.6,673.82 L659.1,675.13 L659.6,676.34 L660.1,677.47 L660.6,678.50 L661.1,679.47 L661.6,680.38 L662.1,681.23 L662.6,682.00 L663.1,682.65 L663.6,683.18 L664.1,683.60 L664.6,683.94 L665.1,684.26 L665.6,684.61 L666.1,685.01 L666.6,685.48 L667.1,686.00 L667.6,686.57 L668.1,687.17 L668.6,687.79 L669.1,688.42 L669.6,689.03 L670.1,689.60 L670.6,690.12 L671.1,690.56 L671.6,690.93 L672.1,691.18 L672.6,691.30 L673.1,691.25 L673.6,691.01 L674.1,690.60 L674.6,690.09 L675.1,689.54 L675.6,689.07 L676.1,688.68 L676.6,688.42 L677.1,688.37 L677.6,688.54 L678.1,688.97 L678.6,689.62 L679.1,690.46 L679.6,691.41 L680.1,692.43 L680.6,693.46 L681.1,694.39 L681.6,695.20 L682.1,695.92 L682.6,696.53 L683.1,697.03 L683.6,697.42 L684.1,697.75 L684.6,698.05 L685.1,698.38 L685.6,698.77 L686.1,699.22 L686.6,699.71 L687.1,700.22 L687.6,700.72 L688.1,701.18 L688.6,701.59 L689.1,701.94 L689.6,702.24 L690.1,702.50 L690.6,702.75 L691.1,703.02 L691.6,703.34 L692.1,703.71 L692.6,704.12 L693.1,704.53 L693.6,704.88 L694.1,705.08 L694.6,705.10 L695.1,704.93 L695.6,704.58 L696.1,704.12 L696.6,703.61 L697.1,702.76 L697.6,701.91 L698.1,701.08 L698.6,700.26 L699.1,699.43 L699.6,698.59 L700.1,697.69 L700.6,696.73 L701.1,695.69 L701.6,694.59 L702.1,693.45 L702.6,692.26 L703.1,691.04 L703.6,689.78 L704.1,688.44 L704.6,687.01 L705.1,685.47 L705.6,683.85 L706.1,682.16 L706.6,680.42 L707.1,678.67 L707.6,676.91 L708.1,675.17 L708.6,673.47 L709.1,671.82 L709.6,670.27 L710.1,668.83 L710.6,667.55 L711.1,666.42 L711.6,665.45 L712.1,664.63 L712.6,663.92 L713.1,663.30 L713.6,662.73 L714.1,662.16 L714.6,661.56 L715.1,660.88 L715.6,660.09 L716.1,659.19 L716.6,658.19 L717.1,657.13 L717.6,656.02 L718.1,654.86 L718.6,653.59 L719.1,652.18 L719.6,650.60 L720.1,648.84 L720.6,646.94 L721.1,644.96 L721.6,642.96 L722.1,640.97 L722.6,638.99 L723.1,637.01 L723.6,634.99 L724.1,632.87 L724.6,630.64 L725.1,628.29 L725.6,625.84 L726.1,623.31 L726.6,620.76 L727.1,618.20 L727.6,615.66 L728.1,613.10 L728.6,610.46 L729.1,606.67 L729.6,602.89 L730.1,599.31 L730.6,596.05 L731.1,593.20 L731.6,590.85 L732.1,589.05 L732.6,587.83 L733.1,587.20 L733.6,587.21 L734.1,587.95 L734.6,589.52 L735.1,591.89 L735.6,594.93 L736.1,598.47 L736.6,602.35 L737.1,606.44 L737.6,610.64 L738.1,614.82 L738.6,618.82 L739.1,622.50 L739.6,625.73 L740.1,628.51 L740.6,630.95 L741.1,633.24 L741.6,635.56 L742.1,638.03 L742.6,640.64 L743.1,643.38 L743.6,646.14 L744.1,648.86 L744.6,651.46 L745.1,653.93 L745.6,656.26 L746.1,658.48 L746.6,660.62 L747.1,662.70 L747.6,664.71 L748.1,666.59 L748.6,668.29 L749.1,669.77 L749.6,671.05 L750.1,672.16 L750.6,673.16 L751.1,674.07 L751.6,674.90 L752.1,675.65 L752.6,676.32 L753.1,676.90 L753.6,677.42 L754.1,677.88 L754.6,678.29 L755.1,678.65 L755.6,679.13 L756.1,679.53 L756.6,679.83 L757.1,680.05 L757.6,680.18 L758.1,680.22 L758.6,680.20 L759.1,680.12 L759.6,680.02 L760.1,679.90 L760.6,679.81 L761.1,679.75 L761.6,679.70 L762.1,679.64 L762.6,679.55 L763.1,679.43 L763.6,679.26 L764.1,679.06 L764.6,678.84 L765.1,678.61 L765.6,678.37 L766.1,678.12 L766.6,677.87 L767.1,677.63 L767.6,677.40 L768.1,677.18 L768.6,676.94 L769.1,676.68 L769.6,676.34 L770.1,675.90 L770.6,675.14 L771.1,674.31 L771.6,673.49 L772.1,672.74 L772.6,672.10 L773.1,671.57 L773.6,671.15 L774.1,670.80 L774.6,670.51 L775.1,670.26 L775.6,670.08 L776.1,669.98 L776.6,669.98 L777.1,670.08 L777.6,670.29 L778.1,670.55 L778.6,670.81 L779.1,671.06 L779.6,671.26 L780.1,671.39 L780.6,671.45 L781.1,671.45 L781.6,671.40 L782.1,671.30 L782.6,671.18 L783.1,671.03 L783.6,670.91 L784.1,670.82 L784.6,670.79 L785.1,670.84 L785.6,670.99 L786.1,671.29 L786.6,671.76 L787.1,672.36 L787.6,673.08 L788.1,673.87 L788.6,674.70 L789.1,675.53 L789.6,676.35 L790.1,677.17 L790.6,678.01 L791.1,678.84 L791.6,679.63 L792.1,680.39 L792.6,681.13 L793.1,681.84 L793.6,682.55 L794.1,683.27 L794.6,684.03 L795.1,684.80 L795.6,685.60 L796.1,686.39 L796.6,687.16 L797.1,687.89 L797.6,688.58 L798.1,689.26 L798.6,689.93 L799.1,690.63 L799.6,691.33 L800.1,692.02 L800.6,692.69 L801.1,693.31 L801.6,693.89 L802.1,694.42 L802.6,694.91 L803.1,695.36 L803.6,695.78 L804.1,696.16 L804.6,696.51 L805.1,696.82 L805.6,697.11 L806.1,697.35 L806.6,697.52 L807.1,697.63 L807.6,697.66 L808.1,697.63 L808.6,697.54 L809.1,697.44 L809.6,697.34 L810.1,697.26 L810.6,697.23 L811.1,697.23 L811.6,697.27 L812.1,697.31 L812.6,697.35 L813.1,697.35 L813.6,697.32 L814.1,697.24 L814.6,697.14 L815.1,697.01 L815.6,696.89 L816.1,696.79 L816.6,696.74 L817.1,696.75 L817.6,696.82 L818.1,696.94 L818.6,697.10 L819.1,697.27 L819.6,697.44 L820.1,697.57 L820.6,697.64 L821.1,697.66 L821.6,697.60 L822.1,697.47 L822.6,697.28 L823.1,697.05 L823.6,696.81 L824.1,696.57 L824.6,696.36 L825.1,696.15 L825.6,695.96 L826.1,695.75 L826.6,695.55 L827.1,695.36 L827.6,695.21 L828.1,695.13 L828.6,695.12 L829.1,695.16 L829.6,695.23 L830.1,695.29 L830.6,695.31 L831.1,695.31 L831.6,695.28 L832.1,695.18 L832.6,695.09 L833.1,695.02 L833.6,694.95 L834.1,694.91 L834.6,694.87 L835.1,694.87 L835.6,694.90 L836.1,694.99 L836.6,695.12 L837.1,695.29 L837.6,695.47 L838.1,695.66 L838.6,695.83 L839.1,695.97 L839.6,696.10 L840.1,696.22 L840.6,696.35 L841.1,696.54 L841.6,696.78 L842.1,697.07 L842.6,697.41 L843.1,697.75 L843.6,698.07 L844.1,698.35 L844.6,698.58 L845.1,698.78 L845.6,698.95 L846.1,699.09 L846.6,699.19 L847.1,699.24 L847.6,699.24 L848.1,699.21 L848.6,699.19 L849.1,699.22 L849.6,699.33 L850.1,699.53 L850.6,699.81 L851.1,700.13 L851.6,700.42 L852.1,700.64 L852.6,700.78 L853.1,700.82 L853.6,700.79 L854.1,700.73 L854.6,700.65 L855.1,700.57 L855.6,700.49 L856.1,700.41 L856.6,700.32 L857.1,700.23 L857.6,700.14 L858.1,700.06 L858.6,700.01 L859.1,699.99 L859.6,699.99 L860.1,700.02 L860.6,700.05 L861.1,700.06 L861.6,700.05 L862.1,700.01 L862.6,699.96 L863.1,699.90 L863.6,699.87 L864.1,699.85 L864.6,699.85 L865.1,699.86 L865.6,699.87 L866.1,699.86 L866.6,699.82 L867.1,699.74 L867.6,699.63 L868.1,699.49 L868.6,699.34 L869.1,699.19 L869.6,699.05 L870.1,698.92 L870.6,698.82 L871.1,698.72 L871.6,698.64 L872.1,698.55 L872.6,698.47 L873.1,698.38 L873.6,698.27 L874.1,698.14 L874.6,697.99 L875.1,697.82 L875.6,697.64 L876.1,697.48 L876.6,697.32 L877.1,697.14 L877.6,696.92 L878.1,696.65 L878.6,696.36 L879.1,696.06 L879.6,695.81 L880.1,695.60 L880.6,695.45 L881.1,695.32 L881.6,695.18 L882.1,695.02 L882.6,694.84 L883.1,694.71 L883.6,694.60 L884.1,694.53 L884.6,694.51 L885.1,694.56 L885.6,694.64 L886.1,694.79 L886.6,695.01 L887.1,695.27 L887.6,695.57 L888.1,695.90 L888.6,696.25 L889.1,696.61 L889.6,696.96 L890.1,697.29 L890.6,697.62 L891.1,697.93 L891.6,698.25 L892.1,698.57 L892.6,698.86 L893.1,699.11 L893.6,699.31 L894.1,699.44 L894.6,699.50 L895.1,699.44 L895.6,699.38 L896.1,699.34 L896.6,699.36 L897.1,699.45 L897.6,699.59 L898.1,699.67 L898.6,699.63 L899.1,699.44 L899.6,699.09 L900.1,698.60 L900.6,698.02 L901.1,697.42 L901.6,696.85 L902.1,696.33 L902.6,695.90 L903.1,695.53 L903.6,695.24 L904.1,695.02 L904.6,694.88 L905.1,694.81 L905.6,694.79 L906.1,694.79 L906.6,694.77 L907.1,694.71 L907.6,694.60 L908.1,694.46 L908.6,694.26 L909.1,694.03 L909.6,693.75 L910.1,693.45 L910.6,693.14 L911.1,692.88 L911.6,692.67 L912.1,692.52 L912.6,692.42 L913.1,692.34 L913.6,692.25 L914.1,692.13 L914.6,691.99 L915.1,691.84 L915.6,691.70 L916.1,691.58 L916.6,691.49 L917.1,691.43" fill="none" stroke="#3d52ab" stroke-width="2.7" stroke-linejoin="round"/>
<path d="M578.6,674.41 L579.1,674.16 L579.6,673.81 L580.1,673.40 L580.6,672.97 L581.1,672.56 L581.6,672.19 L582.1,671.88 L582.6,671.61 L583.1,671.37 L583.6,671.13 L584.1,670.90 L584.6,670.67 L585.1,670.47 L585.6,670.27 L586.1,670.06 L586.6,669.83 L587.1,669.61 L587.6,669.39 L588.1,669.22 L588.6,669.14 L589.1,669.15 L589.6,669.27 L590.1,669.47 L590.6,669.73 L591.1,670.01 L591.6,670.30 L592.1,670.55 L592.6,670.75 L593.1,670.88 L593.6,670.94 L594.1,670.96 L594.6,670.97 L595.1,670.99 L595.6,671.05 L596.1,671.14 L596.6,671.22 L597.1,671.24 L597.6,671.15 L598.1,670.91 L598.6,670.52 L599.1,670.00 L599.6,669.36 L600.1,668.61 L600.6,667.74 L601.1,666.68 L601.6,665.39 L602.1,663.74 L602.6,661.62 L603.1,658.86 L603.6,655.34 L604.1,651.09 L604.6,646.60 L605.1,643.11 L605.6,642.17 L606.1,644.31 L606.6,648.38 L607.1,652.88 L607.6,656.86 L608.1,660.01 L608.6,662.36 L609.1,664.04 L609.6,665.17 L610.1,665.87 L610.6,666.21 L611.1,666.21 L611.6,665.87 L612.1,665.24 L612.6,664.31 L613.1,663.06 L613.6,661.46 L614.1,659.60 L614.6,657.60 L615.1,655.68 L615.6,654.17 L616.1,653.42 L616.6,653.61 L617.1,654.64 L617.6,656.20 L618.1,657.94 L618.6,659.63 L619.1,661.13 L619.6,662.43 L620.1,663.55 L620.6,664.49 L621.1,665.28 L621.6,665.93 L622.1,666.45 L622.6,666.85 L623.1,667.14 L623.6,667.35 L624.1,667.50 L624.6,667.60 L625.1,667.65 L625.6,667.65 L626.1,667.58 L626.6,667.48 L627.1,667.37 L627.6,667.40 L628.1,667.47 L628.6,667.60 L629.1,667.77 L629.6,667.93 L630.1,668.07 L630.6,668.16 L631.1,668.22 L631.6,668.25 L632.1,668.24 L632.6,668.17 L633.1,668.02 L633.6,667.85 L634.1,667.62 L634.6,667.34 L635.1,667.09 L635.6,666.88 L636.1,666.72 L636.6,666.61 L637.1,666.51 L637.6,666.41 L638.1,666.32 L638.6,666.24 L639.1,666.18 L639.6,666.14 L640.1,666.08 L640.6,665.97 L641.1,665.78 L641.6,665.49 L642.1,665.13 L642.6,664.73 L643.1,664.31 L643.6,663.89 L644.1,663.43 L644.6,662.89 L645.1,662.26 L645.6,661.48 L646.1,660.58 L646.6,659.57 L647.1,658.45 L647.6,657.23 L648.1,655.90 L648.6,654.46 L649.1,652.89 L649.6,651.19 L650.1,649.37 L650.6,647.42 L651.1,645.34 L651.6,643.14 L652.1,640.85 L652.6,638.50 L653.1,636.17 L653.6,633.95 L654.1,631.97 L654.6,630.36 L655.1,629.22 L655.6,628.60 L656.1,628.51 L656.6,628.90 L657.1,629.68 L657.6,630.75 L658.1,632.00 L658.6,633.33 L659.1,634.63 L659.6,635.81 L660.1,636.82 L660.6,637.60 L661.1,638.17 L661.6,638.55 L662.1,638.78 L662.6,638.91 L663.1,638.99 L663.6,639.04 L664.1,639.09 L664.6,639.17 L665.1,639.31 L665.6,639.50 L666.1,639.79 L666.6,640.17 L667.1,640.66 L667.6,641.25 L668.1,641.95 L668.6,642.73 L669.1,643.58 L669.6,644.48 L670.1,645.40 L670.6,646.31 L671.1,647.14 L671.6,647.87 L672.1,648.44 L672.6,648.83 L673.1,649.04 L673.6,649.09 L674.1,649.00 L674.6,648.81 L675.1,648.55 L675.6,648.25 L676.1,647.89 L676.6,647.54 L677.1,647.32 L677.6,647.27 L678.1,647.45 L678.6,647.84 L679.1,648.43 L679.6,649.19 L680.1,650.07 L680.6,651.02 L681.1,651.97 L681.6,652.82 L682.1,653.58 L682.6,654.21 L683.1,654.71 L683.6,655.07 L684.1,655.33 L684.6,655.54 L685.1,655.80 L685.6,656.16 L686.1,656.70 L686.6,657.36 L687.1,658.15 L687.6,658.99 L688.1,659.81 L688.6,660.59 L689.1,661.32 L689.6,662.01 L690.1,662.67 L690.6,663.31 L691.1,663.93 L691.6,664.52 L692.1,665.09 L692.6,665.59 L693.1,666.00 L693.6,666.29 L694.1,666.42 L694.6,666.39 L695.1,666.24 L695.6,666.00 L696.1,665.72 L696.6,665.42 L697.1,664.75 L697.6,664.05 L698.1,663.30 L698.6,662.50 L699.1,661.64 L699.6,660.74 L700.1,659.83 L700.6,658.94 L701.1,658.08 L701.6,657.23 L702.1,656.38 L702.6,655.48 L703.1,654.50 L703.6,653.42 L704.1,652.24 L704.6,650.96 L705.1,649.62 L705.6,648.22 L706.1,646.76 L706.6,645.24 L707.1,643.67 L707.6,642.05 L708.1,640.40 L708.6,638.74 L709.1,637.11 L709.6,635.55 L710.1,634.08 L710.6,632.72 L711.1,631.49 L711.6,630.40 L712.1,629.44 L712.6,628.65 L713.1,628.00 L713.6,627.47 L714.1,627.00 L714.6,626.50 L715.1,625.91 L715.6,625.16 L716.1,624.25 L716.6,623.18 L717.1,621.95 L717.6,620.59 L718.1,619.13 L718.6,617.59 L719.1,616.01 L719.6,614.51 L720.1,613.26 L720.6,611.94 L721.1,610.56 L721.6,609.10 L722.1,607.55 L722.6,605.89 L723.1,604.08 L723.6,602.11 L724.1,599.96 L724.6,597.62 L725.1,595.11 L725.6,592.44 L726.1,589.64 L726.6,586.76 L727.1,583.79 L727.6,580.72 L728.1,577.55 L728.6,574.32 L729.1,571.09 L729.6,567.99 L730.1,565.16 L730.6,562.78 L731.1,560.99 L731.6,559.90 L732.1,559.59 L732.6,560.08 L733.1,561.34 L733.6,563.29 L734.1,565.76 L734.6,568.60 L735.1,571.62 L735.6,574.70 L736.1,577.74 L736.6,580.69 L737.1,583.46 L737.6,585.98 L738.1,588.32 L738.6,590.51 L739.1,592.62 L739.6,594.74 L740.1,597.23 L740.6,600.10 L741.1,603.10 L741.6,606.16 L742.1,609.21 L742.6,612.22 L743.1,615.13 L743.6,617.87 L744.1,620.35 L744.6,622.47 L745.1,624.23 L745.6,625.74 L746.1,627.17 L746.6,628.66 L747.1,630.25 L747.6,631.92 L748.1,633.62 L748.6,635.33 L749.1,636.99 L749.6,638.59 L750.1,640.12 L750.6,641.57 L751.1,642.95 L751.6,644.30 L752.1,645.63 L752.6,646.96 L753.1,648.27 L753.6,649.51 L754.1,650.66 L754.6,651.68 L755.1,652.58 L755.6,653.36 L756.1,654.01 L756.6,654.58 L757.1,655.06 L757.6,655.47 L758.1,655.81 L758.6,656.09 L759.1,656.32 L759.6,656.50 L760.1,656.67 L760.6,656.84 L761.1,657.06 L761.6,657.34 L762.1,657.71 L762.6,658.17 L763.1,658.70 L763.6,659.26 L764.1,659.78 L764.6,660.20 L765.1,660.46 L765.6,660.55 L766.1,660.49 L766.6,660.33 L767.1,660.15 L767.6,660.00 L768.1,659.90 L768.6,659.85 L769.1,659.79 L769.6,659.68 L770.1,659.45 L770.6,659.07 L771.1,658.66 L771.6,658.25 L772.1,657.87 L772.6,657.54 L773.1,657.23 L773.6,656.94 L774.1,656.65 L774.6,656.36 L775.1,656.15 L775.6,655.99 L776.1,655.79 L776.6,655.58 L777.1,655.37 L777.6,655.20 L778.1,655.08 L778.6,655.02 L779.1,655.01 L779.6,655.03 L780.1,655.06 L780.6,655.11 L781.1,655.16 L781.6,655.17 L782.1,655.16 L782.6,655.11 L783.1,655.04 L783.6,654.98 L784.1,654.96 L784.6,655.01 L785.1,655.14 L785.6,655.34 L786.1,655.64 L786.6,656.02 L787.1,656.48 L787.6,657.01 L788.1,657.56 L788.6,658.10 L789.1,658.59 L789.6,659.00 L790.1,659.24 L790.6,659.40 L791.1,659.59 L791.6,659.84 L792.1,660.18 L792.6,660.60 L793.1,661.07 L793.6,661.55 L794.1,662.03 L794.6,662.49 L795.1,663.01 L795.6,663.56 L796.1,664.08 L796.6,664.59 L797.1,665.07 L797.6,665.52 L798.1,665.94 L798.6,666.35 L799.1,666.78 L799.6,667.22 L800.1,667.61 L800.6,667.86 L801.1,668.03 L801.6,668.11 L802.1,668.08 L802.6,667.97 L803.1,667.80 L803.6,667.59 L804.1,667.39 L804.6,667.23 L805.1,667.12 L805.6,667.07 L806.1,667.07 L806.6,667.09 L807.1,667.13 L807.6,667.19 L808.1,667.30 L808.6,667.46 L809.1,667.67 L809.6,667.91 L810.1,668.16 L810.6,668.36 L811.1,668.51 L811.6,668.61 L812.1,668.69 L812.6,668.79 L813.1,668.96 L813.6,669.20 L814.1,669.50 L814.6,669.81 L815.1,670.13 L815.6,670.40 L816.1,670.64 L816.6,670.85 L817.1,671.05 L817.6,671.24 L818.1,671.43 L818.6,671.60 L819.1,671.72 L819.6,671.79 L820.1,671.79 L820.6,671.76 L821.1,671.75 L821.6,671.76 L822.1,671.82 L822.6,671.89 L823.1,671.96 L823.6,671.99 L824.1,671.96 L824.6,671.86 L825.1,671.73 L825.6,671.58 L826.1,671.44 L826.6,671.33 L827.1,671.24 L827.6,671.17 L828.1,671.10 L828.6,671.04 L829.1,670.97 L829.6,670.89 L830.1,670.78 L830.6,670.65 L831.1,670.48 L831.6,670.28 L832.1,670.06 L832.6,669.86 L833.1,669.71 L833.6,669.63 L834.1,669.62 L834.6,669.67 L835.1,669.78 L835.6,669.92 L836.1,670.08 L836.6,670.22 L837.1,670.35 L837.6,670.48 L838.1,670.62 L838.6,670.80 L839.1,671.02 L839.6,671.25 L840.1,671.47 L840.6,671.65 L841.1,671.78 L841.6,671.89 L842.1,672.00 L842.6,672.14 L843.1,672.35 L843.6,672.61 L844.1,672.90 L844.6,673.18 L845.1,673.45 L845.6,673.70 L846.1,673.95 L846.6,674.22 L847.1,674.51 L847.6,674.81 L848.1,675.09 L848.6,675.33 L849.1,675.49 L849.6,675.57 L850.1,675.56 L850.6,675.48 L851.1,675.34 L851.6,675.17 L852.1,675.01 L852.6,674.90 L853.1,674.85 L853.6,674.86 L854.1,674.91 L854.6,675.00 L855.1,675.08 L855.6,675.15 L856.1,675.20 L856.6,675.21 L857.1,675.18 L857.6,675.12 L858.1,675.05 L858.6,674.98 L859.1,674.94 L859.6,674.94 L860.1,674.97 L860.6,675.00 L861.1,675.04 L861.6,675.05 L862.1,675.04 L862.6,674.98 L863.1,674.88 L863.6,674.76 L864.1,674.63 L864.6,674.54 L865.1,674.51 L865.6,674.56 L866.1,674.67 L866.6,674.78 L867.1,674.86 L867.6,674.89 L868.1,674.88 L868.6,674.83 L869.1,674.74 L869.6,674.61 L870.1,674.42 L870.6,674.19 L871.1,673.94 L871.6,673.70 L872.1,673.51 L872.6,673.37 L873.1,673.27 L873.6,673.18 L874.1,673.09 L874.6,672.96 L875.1,672.81 L875.6,672.64 L876.1,672.48 L876.6,672.35 L877.1,672.26 L877.6,672.21 L878.1,672.17 L878.6,672.14 L879.1,672.11 L879.6,672.10 L880.1,672.11 L880.6,672.16 L881.1,672.25 L881.6,672.36 L882.1,672.49 L882.6,672.64 L883.1,672.80 L883.6,672.96 L884.1,673.12 L884.6,673.26 L885.1,673.36 L885.6,673.42 L886.1,673.43 L886.6,673.42 L887.1,673.40 L887.6,673.41 L888.1,673.45 L888.6,673.54 L889.1,673.66 L889.6,673.81 L890.1,673.98 L890.6,674.15 L891.1,674.32 L891.6,674.46 L892.1,674.57 L892.6,674.65 L893.1,674.68 L893.6,674.68 L894.1,674.65 L894.6,674.59 L895.1,674.53 L895.6,674.48 L896.1,674.45 L896.6,674.44 L897.1,674.46 L897.6,674.47 L898.1,674.45 L898.6,674.41 L899.1,674.35 L899.6,674.28 L900.1,674.23 L900.6,674.22 L901.1,674.25 L901.6,674.31 L902.1,674.35 L902.6,674.35 L903.1,674.30 L903.6,674.20 L904.1,674.07 L904.6,673.95 L905.1,673.87 L905.6,673.86 L906.1,673.91 L906.6,674.02 L907.1,674.15 L907.6,674.27 L908.1,674.35 L908.6,674.40 L909.1,674.40 L909.6,674.37 L910.1,674.32 L910.6,674.25 L911.1,674.19 L911.6,674.14 L912.1,674.12 L912.6,674.15 L913.1,674.22 L913.6,674.32 L914.1,674.44 L914.6,674.54 L915.1,674.61 L915.6,674.63 L916.1,674.61 L916.6,674.56 L917.1,674.48" fill="none" stroke="#128580" stroke-width="2.7" stroke-linejoin="round"/>
<path d="M578.6,633.35 L579.1,633.14 L579.6,632.85 L580.1,632.46 L580.6,632.03 L581.1,631.59 L581.6,631.14 L582.1,630.73 L582.6,630.35 L583.1,630.02 L583.6,629.73 L584.1,629.48 L584.6,629.27 L585.1,629.15 L585.6,629.09 L586.1,629.11 L586.6,629.21 L587.1,629.36 L587.6,629.57 L588.1,629.80 L588.6,630.05 L589.1,630.31 L589.6,630.59 L590.1,630.86 L590.6,631.10 L591.1,631.31 L591.6,631.47 L592.1,631.61 L592.6,631.76 L593.1,631.93 L593.6,632.12 L594.1,632.33 L594.6,632.55 L595.1,632.76 L595.6,632.94 L596.1,633.08 L596.6,633.18 L597.1,633.22 L597.6,633.21 L598.1,633.12 L598.6,632.96 L599.1,632.67 L599.6,632.24 L600.1,631.63 L600.6,630.78 L601.1,629.63 L601.6,628.09 L602.1,626.01 L602.6,623.22 L603.1,619.49 L603.6,614.62 L604.1,608.64 L604.6,602.26 L605.1,597.26 L605.6,595.87 L606.1,598.86 L606.6,604.62 L607.1,610.93 L607.6,616.43 L608.1,620.75 L608.6,623.96 L609.1,626.26 L609.6,627.85 L610.1,628.89 L610.6,629.47 L611.1,629.70 L611.6,629.61 L612.1,629.19 L612.6,628.42 L613.1,627.30 L613.6,625.79 L614.1,623.91 L614.6,621.78 L615.1,619.71 L615.6,618.16 L616.1,617.63 L616.6,618.38 L617.1,620.24 L617.6,622.76 L618.1,625.46 L618.6,628.00 L619.1,630.18 L619.6,632.00 L620.1,633.47 L620.6,634.70 L621.1,635.75 L621.6,636.69 L622.1,637.56 L622.6,638.34 L623.1,639.05 L623.6,639.64 L624.1,640.12 L624.6,640.47 L625.1,640.70 L625.6,640.85 L626.1,640.94 L626.6,641.04 L627.1,641.18 L627.6,641.41 L628.1,641.72 L628.6,642.08 L629.1,642.45 L629.6,642.78 L630.1,643.04 L630.6,643.23 L631.1,643.38 L631.6,643.49 L632.1,643.60 L632.6,643.71 L633.1,643.84 L633.6,644.00 L634.1,644.16 L634.6,644.31 L635.1,644.42 L635.6,644.46 L636.1,644.48 L636.6,644.46 L637.1,644.44 L637.6,644.45 L638.1,644.52 L638.6,644.63 L639.1,644.76 L639.6,644.87 L640.1,644.95 L640.6,644.98 L641.1,644.97 L641.6,644.94 L642.1,644.86 L642.6,644.71 L643.1,644.49 L643.6,644.15 L644.1,643.71 L644.6,643.17 L645.1,642.56 L645.6,641.90 L646.1,641.19 L646.6,640.40 L647.1,639.50 L647.6,638.46 L648.1,637.27 L648.6,635.96 L649.1,634.55 L649.6,633.05 L650.1,631.45 L650.6,629.73 L651.1,627.90 L651.6,625.97 L652.1,624.00 L652.6,622.05 L653.1,620.20 L653.6,618.53 L654.1,617.09 L654.6,615.98 L655.1,615.24 L655.6,614.95 L656.1,615.12 L656.6,615.73 L657.1,616.70 L657.6,617.92 L658.1,619.30 L658.6,620.71 L659.1,622.08 L659.6,623.35 L660.1,624.49 L660.6,625.50 L661.1,626.39 L661.6,627.20 L662.1,627.95 L662.6,628.66 L663.1,629.32 L663.6,629.90 L664.1,630.41 L664.6,630.84 L665.1,631.23 L665.6,631.64 L666.1,632.12 L666.6,632.68 L667.1,633.32 L667.6,633.99 L668.1,634.67 L668.6,635.33 L669.1,635.95 L669.6,636.53 L670.1,637.07 L670.6,637.54 L671.1,637.94 L671.6,638.24 L672.1,638.45 L672.6,638.58 L673.1,638.67 L673.6,638.74 L674.1,638.78 L674.6,638.81 L675.1,638.80 L675.6,638.76 L676.1,638.66 L676.6,638.56 L677.1,638.53 L677.6,638.63 L678.1,638.87 L678.6,639.27 L679.1,639.80 L679.6,640.43 L680.1,641.12 L680.6,641.84 L681.1,642.57 L681.6,643.35 L682.1,644.13 L682.6,644.86 L683.1,645.53 L683.6,646.11 L684.1,646.62 L684.6,647.06 L685.1,647.46 L685.6,647.85 L686.1,648.24 L686.6,648.65 L687.1,649.07 L687.6,649.50 L688.1,649.93 L688.6,650.33 L689.1,650.70 L689.6,651.02 L690.1,651.31 L690.6,651.56 L691.1,651.80 L691.6,652.04 L692.1,652.30 L692.6,652.56 L693.1,652.83 L693.6,653.07 L694.1,653.24 L694.6,653.30 L695.1,653.23 L695.6,653.00 L696.1,652.62 L696.6,652.08 L697.1,651.43 L697.6,650.69 L698.1,649.88 L698.6,649.03 L699.1,648.13 L699.6,647.18 L700.1,646.19 L700.6,645.16 L701.1,644.10 L701.6,643.01 L702.1,641.90 L702.6,640.76 L703.1,639.57 L703.6,638.31 L704.1,636.93 L704.6,635.42 L705.1,633.79 L705.6,632.06 L706.1,630.27 L706.6,628.45 L707.1,626.64 L707.6,624.87 L708.1,623.15 L708.6,621.52 L709.1,620.01 L709.6,618.65 L710.1,617.47 L710.6,616.48 L711.1,615.69 L711.6,615.08 L712.1,614.60 L712.6,614.24 L713.1,613.92 L713.6,613.61 L714.1,613.24 L714.6,612.77 L715.1,612.15 L715.6,611.35 L716.1,610.35 L716.6,609.17 L717.1,607.88 L717.6,606.59 L718.1,605.41 L718.6,604.99 L719.1,604.61 L719.6,604.15 L720.1,603.56 L720.6,602.81 L721.1,601.82 L721.6,600.55 L722.1,598.95 L722.6,596.99 L723.1,594.67 L723.6,592.00 L724.1,589.00 L724.6,585.65 L725.1,581.98 L725.6,578.03 L726.1,573.84 L726.6,569.50 L727.1,565.12 L727.6,560.69 L728.1,556.21 L728.6,551.71 L729.1,547.25 L729.6,542.98 L730.1,539.09 L730.6,535.80 L731.1,533.42 L731.6,532.01 L732.1,531.73 L732.6,532.67 L733.1,534.77 L733.6,537.87 L734.1,541.74 L734.6,546.13 L735.1,550.64 L735.6,555.15 L736.1,559.52 L736.6,563.67 L737.1,567.54 L737.6,571.15 L738.1,574.56 L738.6,577.85 L739.1,581.11 L739.6,584.34 L740.1,587.55 L740.6,590.67 L741.1,593.64 L741.6,596.44 L742.1,599.04 L742.6,601.47 L743.1,603.77 L743.6,605.96 L744.1,608.06 L744.6,610.09 L745.1,612.03 L745.6,613.88 L746.1,615.64 L746.6,617.29 L747.1,618.85 L747.6,620.30 L748.1,621.66 L748.6,622.91 L749.1,624.05 L749.6,625.08 L750.1,626.02 L750.6,626.89 L751.1,627.75 L751.6,628.59 L752.1,629.41 L752.6,630.21 L753.1,630.96 L753.6,631.68 L754.1,632.36 L754.6,633.00 L755.1,633.60 L755.6,634.15 L756.1,634.62 L756.6,635.02 L757.1,635.36 L757.6,635.61 L758.1,635.81 L758.6,635.99 L759.1,636.11 L759.6,636.16 L760.1,636.11 L760.6,635.96 L761.1,635.76 L761.6,635.54 L762.1,635.33 L762.6,635.17 L763.1,635.03 L763.6,634.90 L764.1,634.75 L764.6,634.53 L765.1,634.24 L765.6,633.90 L766.1,633.57 L766.6,633.32 L767.1,633.19 L767.6,633.22 L768.1,633.32 L768.6,633.40 L769.1,633.38 L769.6,633.22 L770.1,632.93 L770.6,632.48 L771.1,631.84 L771.6,631.16 L772.1,630.50 L772.6,629.89 L773.1,629.35 L773.6,628.84 L774.1,628.35 L774.6,627.88 L775.1,627.41 L775.6,626.95 L776.1,626.53 L776.6,626.15 L777.1,625.83 L777.6,625.59 L778.1,625.43 L778.6,625.35 L779.1,625.33 L779.6,625.32 L780.1,625.29 L780.6,625.22 L781.1,625.10 L781.6,624.95 L782.1,624.79 L782.6,624.66 L783.1,624.54 L783.6,624.45 L784.1,624.37 L784.6,624.33 L785.1,624.33 L785.6,624.39 L786.1,624.52 L786.6,624.72 L787.1,624.97 L787.6,625.28 L788.1,625.65 L788.6,626.09 L789.1,626.61 L789.6,627.19 L790.1,627.81 L790.6,628.44 L791.1,629.07 L791.6,629.69 L792.1,630.32 L792.6,630.96 L793.1,631.64 L793.6,632.37 L794.1,633.15 L794.6,633.99 L795.1,634.88 L795.6,635.80 L796.1,636.73 L796.6,637.62 L797.1,638.48 L797.6,639.28 L798.1,640.05 L798.6,640.79 L799.1,641.48 L799.6,642.11 L800.1,642.67 L800.6,643.18 L801.1,643.66 L801.6,644.16 L802.1,644.69 L802.6,645.23 L803.1,645.73 L803.6,646.16 L804.1,646.46 L804.6,646.65 L805.1,646.72 L805.6,646.73 L806.1,646.70 L806.6,646.62 L807.1,646.48 L807.6,646.31 L808.1,646.15 L808.6,646.03 L809.1,646.00 L809.6,646.07 L810.1,646.23 L810.6,646.46 L811.1,646.68 L811.6,646.87 L812.1,646.98 L812.6,646.98 L813.1,646.88 L813.6,646.69 L814.1,646.44 L814.6,646.15 L815.1,645.88 L815.6,645.65 L816.1,645.49 L816.6,645.40 L817.1,645.38 L817.6,645.39 L818.1,645.40 L818.6,645.36 L819.1,645.22 L819.6,644.98 L820.1,644.66 L820.6,644.29 L821.1,643.90 L821.6,643.53 L822.1,643.19 L822.6,642.89 L823.1,642.63 L823.6,642.39 L824.1,642.15 L824.6,641.89 L825.1,641.60 L825.6,641.27 L826.1,640.90 L826.6,640.53 L827.1,640.18 L827.6,639.87 L828.1,639.61 L828.6,639.40 L829.1,639.22 L829.6,639.05 L830.1,638.88 L830.6,638.73 L831.1,638.60 L831.6,638.49 L832.1,638.42 L832.6,638.40 L833.1,638.41 L833.6,638.43 L834.1,638.44 L834.6,638.45 L835.1,638.45 L835.6,638.47 L836.1,638.54 L836.6,638.66 L837.1,638.82 L837.6,638.99 L838.1,639.16 L838.6,639.29 L839.1,639.39 L839.6,639.46 L840.1,639.54 L840.6,639.65 L841.1,639.79 L841.6,639.98 L842.1,640.21 L842.6,640.46 L843.1,640.71 L843.6,640.92 L844.1,641.09 L844.6,641.18 L845.1,641.22 L845.6,641.20 L846.1,641.16 L846.6,641.13 L847.1,641.11 L847.6,641.11 L848.1,641.15 L848.6,641.23 L849.1,641.38 L849.6,641.60 L850.1,641.89 L850.6,642.22 L851.1,642.56 L851.6,642.89 L852.1,643.21 L852.6,643.54 L853.1,643.88 L853.6,644.23 L854.1,644.57 L854.6,644.89 L855.1,645.18 L855.6,645.45 L856.1,645.70 L856.6,645.93 L857.1,646.16 L857.6,646.36 L858.1,646.56 L858.6,646.71 L859.1,646.83 L859.6,646.90 L860.1,646.91 L860.6,646.85 L861.1,646.75 L861.6,646.62 L862.1,646.50 L862.6,646.40 L863.1,646.33 L863.6,646.32 L864.1,646.38 L864.6,646.49 L865.1,646.63 L865.6,646.80 L866.1,646.95 L866.6,647.07 L867.1,647.13 L867.6,647.14 L868.1,647.08 L868.6,646.96 L869.1,646.78 L869.6,646.57 L870.1,646.36 L870.6,646.18 L871.1,646.04 L871.6,645.94 L872.1,645.83 L872.6,645.70 L873.1,645.53 L873.6,645.31 L874.1,645.05 L874.6,644.76 L875.1,644.46 L875.6,644.16 L876.1,643.86 L876.6,643.59 L877.1,643.34 L877.6,643.15 L878.1,643.04 L878.6,643.01 L879.1,643.04 L879.6,643.10 L880.1,643.15 L880.6,643.17 L881.1,643.17 L881.6,643.18 L882.1,643.24 L882.6,643.33 L883.1,643.47 L883.6,643.62 L884.1,643.75 L884.6,643.85 L885.1,643.90 L885.6,643.95 L886.1,644.01 L886.6,644.12 L887.1,644.27 L887.6,644.47 L888.1,644.67 L888.6,644.86 L889.1,645.01 L889.6,645.13 L890.1,645.22 L890.6,645.31 L891.1,645.41 L891.6,645.53 L892.1,645.69 L892.6,645.87 L893.1,646.10 L893.6,646.38 L894.1,646.73 L894.6,647.13 L895.1,647.54 L895.6,647.91 L896.1,648.18 L896.6,648.32 L897.1,648.35 L897.6,648.28 L898.1,648.18 L898.6,648.08 L899.1,648.01 L899.6,647.96 L900.1,647.90 L900.6,647.81 L901.1,647.67 L901.6,647.45 L902.1,647.18 L902.6,646.85 L903.1,646.50 L903.6,646.15 L904.1,645.81 L904.6,645.51 L905.1,645.24 L905.6,644.98 L906.1,644.72 L906.6,644.45 L907.1,644.18 L907.6,643.94 L908.1,643.76 L908.6,643.62 L909.1,643.54 L909.6,643.46 L910.1,643.37 L910.6,643.23 L911.1,643.04 L911.6,642.82 L912.1,642.59 L912.6,642.38 L913.1,642.20 L913.6,642.06 L914.1,641.96 L914.6,641.90 L915.1,641.88 L915.6,641.88 L916.1,641.87 L916.6,641.83 L917.1,641.72" fill="none" stroke="#bd4fae" stroke-width="2.7" stroke-linejoin="round"/>
<text transform="translate(610.1,587.0) rotate(-90)" font-size="14.6" text-anchor="start">481</text>
<text transform="translate(620.7,602.9) rotate(-90)" font-size="14.6" text-anchor="start">531</text>
<text transform="translate(660.3,605.0) rotate(-90)" font-size="14.6" text-anchor="start">732</text>
<text transform="translate(682.2,627.4) rotate(-90)" font-size="14.6" text-anchor="start">830</text>
<text transform="translate(718.5,595.6) rotate(-90)" font-size="14.6" text-anchor="start">1,004</text>
<text transform="translate(736.5,520.1) rotate(-90)" font-size="14.6" text-anchor="start">1,086</text>
<text transform="translate(781.0,613.7) rotate(-90)" font-size="14.6" text-anchor="start">1,325</text>
<text transform="translate(795.5,612.6) rotate(-90)" font-size="14.6" text-anchor="start">1,360</text>
<text transform="translate(824.9,633.0) rotate(-90)" font-size="14.6" text-anchor="start">1,530</text>
<text transform="translate(839.1,626.4) rotate(-90)" font-size="14.6" text-anchor="start">1,590</text>
<text transform="translate(884.8,614.4) rotate(-90)" font-size="14.6" text-anchor="start">1,810</text>
<text x="910.9" y="638.4" font-size="14.6" text-anchor="end">1,000 mN</text>
<text x="910.9" y="666.5" font-size="14.6" text-anchor="end">800 mN</text>
<text x="910.9" y="691.6" font-size="14.6" text-anchor="end">600 mN</text>
<text x="910.9" y="724.2" font-size="14.6" text-anchor="end">400 mN</text>
<text x="910.9" y="745.0" font-size="14.6" text-anchor="end">200 mN</text>
<text x="910.9" y="786.5" font-size="14.6" text-anchor="end">Flat surface</text>
</svg></body></html>
